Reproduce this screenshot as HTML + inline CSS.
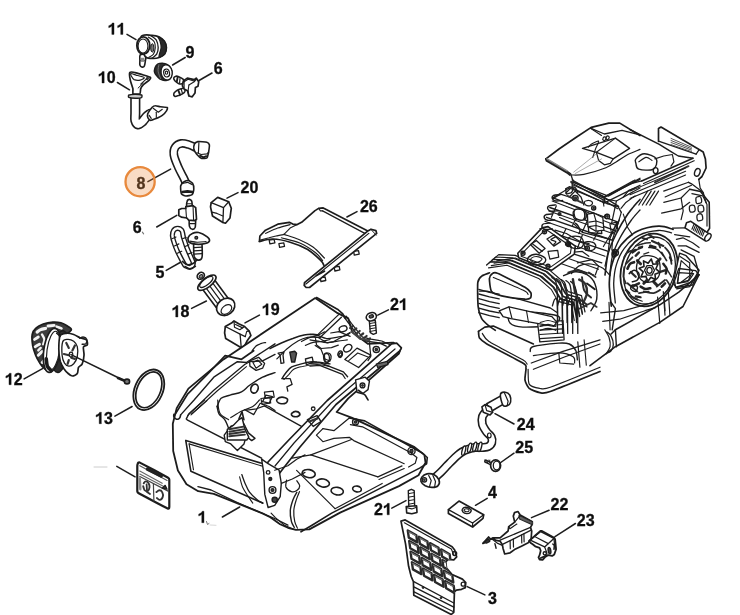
<!DOCTYPE html>
<html><head><meta charset="utf-8"><style>
html,body{margin:0;padding:0;background:#fff;width:740px;height:615px;overflow:hidden}
svg{display:block}
.l{font-family:"Liberation Sans",sans-serif;font-weight:bold;font-size:16px;fill:#111;stroke:#111;stroke-width:0.35px}
svg{will-change:transform}
</style></head><body>
<svg width="740" height="615" viewBox="0 0 740 615">
<defs><filter id="soft" x="0" y="0" width="100%" height="100%"><feGaussianBlur stdDeviation="0.3"/></filter></defs>
<rect width="740" height="615" fill="#fff"/>
<g filter="url(#soft)">
<text x="136.6" y="189.1" class="l">8</text>
<path d="M111.83 34.40 L114.02 34.40 L114.02 22.95 L112.24 22.95 L111.92 23.70 L111.14 24.48 L110.05 25.18 L108.74 25.73 L108.74 27.73 L109.97 27.26 L110.99 26.67 L111.83 25.95 Z" fill="#111" stroke="#111" stroke-width="0.35"/>
<path d="M120.72 34.40 L122.92 34.40 L122.92 22.95 L121.14 22.95 L120.82 23.70 L120.04 24.48 L118.94 25.18 L117.64 25.73 L117.64 27.73 L118.87 27.26 L119.88 26.67 L120.72 25.95 Z" fill="#111" stroke="#111" stroke-width="0.35"/>
<text x="185.6" y="58.2" class="l">9</text>
<text x="213.8" y="73.9" class="l">6</text>
<path d="M101.98 83.00 L104.17 83.00 L104.17 71.55 L102.39 71.55 L102.07 72.30 L101.29 73.08 L100.20 73.78 L98.89 74.33 L98.89 76.33 L100.12 75.86 L101.14 75.27 L101.98 74.55 Z" fill="#111" stroke="#111" stroke-width="0.35"/>
<text x="106.8" y="83" class="l">0</text>
<text x="240.5" y="192.6" class="l">2</text>
<text x="249.4" y="192.6" class="l">0</text>
<text x="359.9" y="211.6" class="l">2</text>
<text x="368.8" y="211.6" class="l">6</text>
<text x="132.8" y="233.3" class="l">6</text>
<text x="155.4" y="277.8" class="l">5</text>
<path d="M175.73 317.00 L177.92 317.00 L177.92 305.55 L176.14 305.55 L175.82 306.30 L175.04 307.08 L173.95 307.78 L172.64 308.33 L172.64 310.33 L173.87 309.86 L174.89 309.27 L175.73 308.55 Z" fill="#111" stroke="#111" stroke-width="0.35"/>
<text x="180.5" y="317" class="l">8</text>
<path d="M265.93 315.10 L268.12 315.10 L268.12 303.65 L266.34 303.65 L266.02 304.40 L265.24 305.18 L264.15 305.88 L262.84 306.43 L262.84 308.43 L264.07 307.96 L265.09 307.37 L265.93 306.65 Z" fill="#111" stroke="#111" stroke-width="0.35"/>
<text x="270.7" y="315.1" class="l">9</text>
<text x="390" y="309.9" class="l">2</text>
<path d="M402.98 309.90 L405.17 309.90 L405.17 298.45 L403.39 298.45 L403.07 299.20 L402.29 299.98 L401.19 300.68 L399.89 301.23 L399.89 303.23 L401.12 302.76 L402.13 302.17 L402.98 301.45 Z" fill="#111" stroke="#111" stroke-width="0.35"/>
<path d="M8.98 384.70 L11.17 384.70 L11.17 373.25 L9.39 373.25 L9.07 374.00 L8.29 374.78 L7.20 375.48 L5.89 376.03 L5.89 378.03 L7.12 377.56 L8.14 376.97 L8.98 376.25 Z" fill="#111" stroke="#111" stroke-width="0.35"/>
<text x="13.8" y="384.7" class="l">2</text>
<path d="M99.18 423.70 L101.37 423.70 L101.37 412.25 L99.59 412.25 L99.27 413.00 L98.49 413.78 L97.40 414.48 L96.09 415.03 L96.09 417.03 L97.32 416.56 L98.34 415.97 L99.18 415.25 Z" fill="#111" stroke="#111" stroke-width="0.35"/>
<text x="103.9" y="423.7" class="l">3</text>
<path d="M201.78 522.70 L203.97 522.70 L203.97 511.25 L202.19 511.25 L201.87 512.00 L201.09 512.78 L200.00 513.48 L198.69 514.03 L198.69 516.03 L199.92 515.56 L200.93 514.97 L201.78 514.25 Z" fill="#111" stroke="#111" stroke-width="0.35"/>
<text x="374.1" y="514.8" class="l">2</text>
<path d="M387.08 514.80 L389.27 514.80 L389.27 503.35 L387.49 503.35 L387.17 504.10 L386.39 504.88 L385.29 505.58 L383.99 506.13 L383.99 508.13 L385.22 507.66 L386.23 507.07 L387.08 506.35 Z" fill="#111" stroke="#111" stroke-width="0.35"/>
<text x="488.1" y="498.3" class="l">4</text>
<text x="488.1" y="604.3" class="l">3</text>
<text x="516.8" y="429.8" class="l">2</text>
<text x="525.7" y="429.8" class="l">4</text>
<text x="515.3" y="453.2" class="l">2</text>
<text x="524.2" y="453.2" class="l">5</text>
<text x="550.5" y="510.3" class="l">2</text>
<text x="559.4" y="510.3" class="l">2</text>
<text x="576.8" y="526.4" class="l">2</text>
<text x="585.7" y="526.4" class="l">3</text>
<line x1="127" y1="34.4" x2="136" y2="39.7" stroke="#1c1c1c" stroke-width="1.5" stroke-linecap="round"/>
<line x1="185.2" y1="57.5" x2="172.6" y2="65" stroke="#1c1c1c" stroke-width="1.5" stroke-linecap="round"/>
<line x1="212" y1="73" x2="199" y2="80.5" stroke="#1c1c1c" stroke-width="1.5" stroke-linecap="round"/>
<line x1="117.4" y1="82.5" x2="129.5" y2="89.8" stroke="#1c1c1c" stroke-width="1.5" stroke-linecap="round"/>
<line x1="147.9" y1="181.7" x2="170.6" y2="169.1" stroke="#1c1c1c" stroke-width="1.5" stroke-linecap="round"/>
<line x1="238" y1="192.6" x2="227" y2="198.2" stroke="#1c1c1c" stroke-width="1.5" stroke-linecap="round"/>
<line x1="357" y1="211.6" x2="346.9" y2="217" stroke="#1c1c1c" stroke-width="1.5" stroke-linecap="round"/>
<line x1="156.7" y1="227" x2="176.8" y2="215.4" stroke="#1c1c1c" stroke-width="1.5" stroke-linecap="round"/>
<line x1="166.2" y1="270.4" x2="181" y2="262" stroke="#1c1c1c" stroke-width="1.5" stroke-linecap="round"/>
<line x1="191.6" y1="308.4" x2="206.4" y2="301" stroke="#1c1c1c" stroke-width="1.5" stroke-linecap="round"/>
<line x1="259.4" y1="315.1" x2="245" y2="322.9" stroke="#1c1c1c" stroke-width="1.5" stroke-linecap="round"/>
<line x1="388.4" y1="309.9" x2="377.8" y2="315.1" stroke="#1c1c1c" stroke-width="1.5" stroke-linecap="round"/>
<line x1="24.1" y1="378.9" x2="42.5" y2="368.6" stroke="#1c1c1c" stroke-width="1.5" stroke-linecap="round"/>
<line x1="114.9" y1="416.1" x2="132.1" y2="406.5" stroke="#1c1c1c" stroke-width="1.5" stroke-linecap="round"/>
<line x1="116.8" y1="466.4" x2="135.1" y2="476.8" stroke="#1c1c1c" stroke-width="1.5" stroke-linecap="round"/>
<line x1="222.4" y1="517" x2="239.7" y2="507" stroke="#1c1c1c" stroke-width="1.5" stroke-linecap="round"/>
<line x1="391.8" y1="508.2" x2="406" y2="500.6" stroke="#1c1c1c" stroke-width="1.5" stroke-linecap="round"/>
<line x1="487.2" y1="498.3" x2="475.5" y2="505.3" stroke="#1c1c1c" stroke-width="1.5" stroke-linecap="round"/>
<line x1="467.2" y1="586.6" x2="484.9" y2="594.9" stroke="#1c1c1c" stroke-width="1.5" stroke-linecap="round"/>
<line x1="514" y1="424" x2="495" y2="413.7" stroke="#1c1c1c" stroke-width="1.5" stroke-linecap="round"/>
<line x1="514" y1="453.2" x2="499.3" y2="463.5" stroke="#1c1c1c" stroke-width="1.5" stroke-linecap="round"/>
<line x1="549.1" y1="510.3" x2="531.5" y2="517.6" stroke="#1c1c1c" stroke-width="1.5" stroke-linecap="round"/>
<line x1="575.4" y1="523.5" x2="555" y2="536.7" stroke="#1c1c1c" stroke-width="1.5" stroke-linecap="round"/>
<path d="M140.2 54.9 C139.3 55.9 139.9 59 139.9 60.7 C139.8 62.5 139.6 64.1 139.9 65.1 C140.2 66.2 141 66.8 141.7 67 C142.4 67.2 143.7 67.3 144.3 66.2 C144.9 65.2 145.1 62.6 145.4 60.7 C145.6 58.9 146.6 55.9 145.7 54.9 C144.9 53.9 141.2 53.9 140.2 54.9 Z" fill="#fff" stroke="#1c1c1c" stroke-width="1.6" stroke-linejoin="round" stroke-linecap="round" />
<path d="M140.6 60.7 L145 60.7" fill="none" stroke="#1c1c1c" stroke-width="1" stroke-linejoin="round" stroke-linecap="round" />
<rect x="140.8" y="57.8" width="3.6" height="4" fill="#888"/>
<path d="M141 37 C142.2 33.6 148.9 35.3 152 35.3 C155 35.3 157.2 35.9 159.3 37 C161.4 38 163.2 39.6 164.4 41.3 C165.6 43.1 166.3 45.5 166.4 47.6 C166.4 49.6 166 52.1 164.8 53.8 C163.6 55.4 161.4 56.7 159.3 57.5 C157.1 58.2 154.4 58.7 152 58.4 C149.5 58.1 146.5 59.2 144.6 55.6 C142.8 52 139.8 40.3 141 37 Z" fill="#fff" stroke="#1c1c1c" stroke-width="1.7" stroke-linejoin="round" stroke-linecap="round" />
<path d="M157.8 36.4 C158.6 36.5 163 39.5 164.4 41.3 C165.8 43.2 166.3 45.5 166.4 47.6 C166.4 49.6 166 52.1 164.8 53.8 C163.6 55.4 160.1 57.5 159.3 57.5 C158.4 57.4 159.3 55.1 159.6 53.4 C160 51.8 161.1 49.6 161.1 47.6 C161.2 45.5 160.6 42.8 160 41 C159.5 39.1 157.1 36.4 157.8 36.4 Z" fill="#2b2b2b" stroke="#1c1c1c" stroke-width="1.2" stroke-linejoin="round" stroke-linecap="round" />
<path d="M151.2 35.9 C152.1 36.6 155.2 38.3 156.4 40.2 C157.5 42.2 158.1 45.3 158.2 47.6 C158.2 49.9 157.8 52.4 156.7 54.2 C155.7 55.9 152.8 57.5 152 58.2" fill="none" stroke="#1c1c1c" stroke-width="1.3" stroke-linejoin="round" stroke-linecap="round" />
<path d="M148.3 37 C149.3 37.7 153 39.9 154.2 41.7 C155.3 43.5 155.4 45.5 155.3 47.6 C155.1 49.6 154.5 52.6 153.4 54.2 C152.4 55.7 149.8 56.6 149 57.1" fill="none" stroke="#1c1c1c" stroke-width="1.1" stroke-linejoin="round" stroke-linecap="round" />
<ellipse cx="152.3" cy="47.9" rx="1.6" ry="4.2" transform="rotate(0 152.3 47.9)" fill="#777" stroke="#1c1c1c" stroke-width="1"/>
<ellipse cx="143.3" cy="45.5" rx="6.4" ry="8.6" transform="rotate(0 143.3 45.5)" fill="#fff" stroke="#1c1c1c" stroke-width="1.9"/>
<ellipse cx="143" cy="46" rx="4.9" ry="7" transform="rotate(0 143 46)" fill="#fff" stroke="#1c1c1c" stroke-width="1.1"/>
<path d="M154.9 68 C155.4 66.5 156.5 64.9 157.7 64.1 C158.9 63.3 160.6 63.1 162.2 63.1 C163.7 63.2 165.6 63.5 167 64.3 C168.5 65.1 169.9 66.6 170.7 68 C171.5 69.3 172 70.8 171.9 72.4 C171.8 74.1 171.2 76.4 170.3 77.7 C169.3 79.1 167.7 80.2 166.2 80.5 C164.7 80.9 162.8 80.3 161.4 79.7 C159.9 79.1 158.8 78 157.7 76.9 C156.6 75.7 155.2 74.3 154.7 72.8 C154.2 71.4 154.4 69.4 154.9 68 Z" fill="#2d2d2d" stroke="#1c1c1c" stroke-width="1.4" stroke-linejoin="round" stroke-linecap="round" />
<ellipse cx="166.6" cy="72.4" rx="5.6" ry="7.7" transform="rotate(-10 166.6 72.4)" fill="#fff" stroke="#1c1c1c" stroke-width="1.4"/>
<ellipse cx="166.6" cy="73" rx="2.9" ry="4" transform="rotate(-10 166.6 73)" fill="#fff" stroke="#1c1c1c" stroke-width="1.2"/>
<ellipse cx="166.5" cy="72.7" rx="1.2" ry="1.6" transform="rotate(0 166.5 72.7)" fill="#fff" stroke="#1c1c1c" stroke-width="1.1"/>
<path d="M158.9 64.7 C158.8 65.8 157.8 68.9 158.1 71.2 C158.4 73.5 160.1 77.3 160.5 78.5" fill="none" stroke="#888" stroke-width="0.8" stroke-linejoin="round" stroke-linecap="round" />
<path d="M173.7 78.1 C173.8 77.3 175 76.5 176 76.2 C176.9 76 178 76.4 179.2 76.9 C180.4 77.4 182.4 78.5 183.3 79.3 C184.1 80.1 184.3 81 184.1 81.8 C183.9 82.5 183 83.5 182 83.8 C181.1 84.1 179.5 83.9 178.4 83.4 C177.2 82.9 175.9 81.8 175.1 81 C174.4 80.1 173.5 78.9 173.7 78.1 Z" fill="#fff" stroke="#1c1c1c" stroke-width="1.6" stroke-linejoin="round" stroke-linecap="round" />
<path d="M177.6 77.3 L176.8 81.8" fill="none" stroke="#1c1c1c" stroke-width="1.9" stroke-linejoin="round" stroke-linecap="round" />
<path d="M180 78.5 L179.6 83" fill="none" stroke="#1c1c1c" stroke-width="1.2" stroke-linejoin="round" stroke-linecap="round" />
<path d="M173.7 93.9 C173.8 93.1 174.9 91.9 176 91.1 C177 90.3 178.7 89.5 180 89.1 C181.4 88.6 183.3 87.8 184.1 88.3 C184.9 88.7 185.1 90.6 184.9 91.5 C184.6 92.4 183.5 93.3 182.4 93.9 C181.4 94.6 179.6 95.1 178.4 95.6 C177.2 96 175.9 96.6 175.1 96.4 C174.4 96.1 173.5 94.8 173.7 93.9 Z" fill="#fff" stroke="#1c1c1c" stroke-width="1.6" stroke-linejoin="round" stroke-linecap="round" />
<path d="M178.4 90.7 L180 94.7" fill="none" stroke="#1c1c1c" stroke-width="1.9" stroke-linejoin="round" stroke-linecap="round" />
<path d="M181.2 89.1 L182.4 93.1" fill="none" stroke="#1c1c1c" stroke-width="1.2" stroke-linejoin="round" stroke-linecap="round" />
<path d="M183.3 81 L187.3 78.1 L194.2 79.7 L196.2 78.1 L198.7 81.8 L198 86.2 L195.4 87.4 L195 93.1 L192.2 96.8 L188.9 96 L187.5 90.7 L184.1 89.1 L182.4 85.8 Z" fill="#fff" stroke="#1c1c1c" stroke-width="1.7" stroke-linejoin="round" stroke-linecap="round" />
<path d="M184.1 81.8 L188.1 79.3 L193.8 81 L195.4 79.3" fill="none" stroke="#1c1c1c" stroke-width="1.1" stroke-linejoin="round" stroke-linecap="round" />
<path d="M188.9 85 L194.2 81.8 L196.2 79.3" fill="none" stroke="#1c1c1c" stroke-width="1.1" stroke-linejoin="round" stroke-linecap="round" />
<path d="M188.9 85 L188.1 90.7 L188.9 96" fill="none" stroke="#1c1c1c" stroke-width="1.1" stroke-linejoin="round" stroke-linecap="round" />
<path d="M184.1 81.8 L184.1 88.3" fill="none" stroke="#1c1c1c" stroke-width="1.1" stroke-linejoin="round" stroke-linecap="round" />
<path d="M135.3 97.7 C135.3 100.3 135.3 109.6 135.3 113.3 C135.3 117.1 134.8 118.5 135.3 120.4 C135.8 122.2 136.9 124.2 138.1 124.4 C139.4 124.6 141.2 122.7 142.7 121.4 C144.1 120 145.4 117.6 146.7 116.4 C148 115.1 149.6 114.3 150.2 113.8" fill="none" stroke="#1c1c1c" stroke-width="10.2" stroke-linejoin="round" stroke-linecap="round" />
<path d="M135.3 97.7 C135.3 100.3 135.3 109.6 135.3 113.3 C135.3 117.1 134.8 118.5 135.3 120.4 C135.8 122.2 136.9 124.2 138.1 124.4 C139.4 124.6 141.2 122.7 142.7 121.4 C144.1 120 145.4 117.6 146.7 116.4 C148 115.1 149.6 114.3 150.2 113.8" fill="none" stroke="#fff" stroke-width="7" stroke-linejoin="round" stroke-linecap="round" />
<path d="M147.7 113.8 C148.1 112.8 151.5 108.1 152.2 107.3 C153 106.5 154.5 105.8 155.3 105.8 C156.1 105.7 159.1 106.6 160.3 106.8 C161.5 107 166.7 107.1 167.3 107.5 C168 107.9 167 110 166.5 110.8 C166 111.6 163.3 114.6 162.3 115.3 C161.3 116.1 157.4 117.9 156.3 118.4 C155.1 118.9 151.6 120.4 150.7 120.4 C149.9 120.3 148.3 118.5 148 117.9 C147.7 117.2 147.3 114.9 147.7 113.8 Z" fill="#fff" stroke="#1c1c1c" stroke-width="1.6" stroke-linejoin="round" stroke-linecap="round" />
<path d="M149.2 115.3 L151.2 118.4" fill="none" stroke="#1c1c1c" stroke-width="1.2" stroke-linejoin="round" stroke-linecap="round" />
<path d="M153.2 108.3 L158.3 112.3 L162.3 109.3" fill="none" stroke="#1c1c1c" stroke-width="1.1" stroke-linejoin="round" stroke-linecap="round" />
<path d="M156.3 112.3 L156.3 117.4" fill="none" stroke="#1c1c1c" stroke-width="1.1" stroke-linejoin="round" stroke-linecap="round" />
<path d="M129.8 72.5 C130.3 71.9 134.4 72.4 136.1 72.8 C137.8 73.2 149.1 76.7 150.2 77.3 C151.3 77.9 149.8 79.5 149.2 80.1 C148.6 80.7 144.1 83.9 143.4 84.6 C142.7 85.3 140.9 87.9 140.7 88.7 C140.4 89.4 140.6 93.2 139.9 93.7 C139.3 94.1 133.7 94.4 133.1 94 C132.5 93.6 133.1 89.8 132.9 88.7 C132.7 87.5 130.5 81.4 130.3 80.1 C130 78.7 129.3 73.1 129.8 72.5 Z" fill="#fff" stroke="#1c1c1c" stroke-width="1.7" stroke-linejoin="round" stroke-linecap="round" />
<path d="M130.9 73.5 C131.5 73.4 134.3 74.5 136.1 75.1 C137.9 75.6 143.6 76.9 144.2 77.6 C144.7 78.2 141.5 79.8 140.1 80.1 C138.8 80.4 135.3 80.1 134.1 79.6 C132.9 79 131.7 76.9 131.3 76.1 C130.9 75.3 130.2 73.7 130.9 73.5 Z" fill="none" stroke="#1c1c1c" stroke-width="1.2" stroke-linejoin="round" stroke-linecap="round" />
<path d="M140.7 84.1 L146.2 79.1 L148.7 78.1" fill="none" stroke="#1c1c1c" stroke-width="1.1" stroke-linejoin="round" stroke-linecap="round" />
<path d="M138.1 88.1 L143.2 83.1" fill="none" stroke="#1c1c1c" stroke-width="1" stroke-linejoin="round" stroke-linecap="round" />
<ellipse cx="147.2" cy="78.6" rx="0.9" ry="1.2" transform="rotate(0 147.2 78.6)" fill="#444" stroke="#1c1c1c" stroke-width="1"/>
<path d="M128.9 95 C129.5 94.7 133.8 94.4 135.1 94.4 C136.4 94.4 141 94.7 141.7 95 C142.3 95.3 142 97.4 141.4 97.7 C140.7 98 136.4 98.3 135.1 98.2 C133.9 98.2 129.5 97.7 128.9 97.4 C128.2 97.1 128.2 95.3 128.9 95 Z" fill="#ccc" stroke="#1c1c1c" stroke-width="1.4" stroke-linejoin="round" stroke-linecap="round" />
<path d="M186.2 183.5 C185.7 182.5 184.9 180.4 183.6 177.8 C182.3 175.1 180.1 171.3 178.4 167.5 C176.8 163.8 174.4 158.4 173.9 155 C173.4 151.6 174 149 175.3 147.1 C176.5 145.1 179 143.8 181.3 143.4 C183.5 143 186.3 143.9 188.7 144.6 C191.1 145.3 194.4 147.1 195.5 147.6" fill="none" stroke="#1c1c1c" stroke-width="8.8" stroke-linejoin="round" stroke-linecap="round" />
<path d="M186.2 183.5 C185.7 182.5 184.9 180.4 183.6 177.8 C182.3 175.1 180.1 171.3 178.4 167.5 C176.8 163.8 174.4 158.4 173.9 155 C173.4 151.6 174 149 175.3 147.1 C176.5 145.1 179 143.8 181.3 143.4 C183.5 143 186.3 143.9 188.7 144.6 C191.1 145.3 194.4 147.1 195.5 147.6" fill="none" stroke="#fff" stroke-width="5.6" stroke-linejoin="round" stroke-linecap="round" />
<path d="M194.4 144.2 C194.8 143.4 196.5 141.8 197.8 141.6 C199 141.4 205.7 141.9 206.9 142.3 C208 142.6 209.2 144 209.4 145 C209.6 146 208.8 150.9 208.6 152.2 C208.3 153.5 207.6 157.3 206.9 157.9 C206.1 158.5 202.2 158.6 201.2 158.2 C200.2 157.9 197.6 155.3 196.9 154.5 C196.1 153.6 194.2 150.6 193.9 149.6 C193.7 148.5 194 145 194.4 144.2 Z" fill="#fff" stroke="#1c1c1c" stroke-width="1.6" stroke-linejoin="round" stroke-linecap="round" />
<path d="M198.9 142.5 L198.4 152.8" fill="none" stroke="#1c1c1c" stroke-width="1.2" stroke-linejoin="round" stroke-linecap="round" />
<path d="M196.9 152.8 L201.2 154.5 L206.9 153.9 L208.6 152.2" fill="none" stroke="#1c1c1c" stroke-width="1.2" stroke-linejoin="round" stroke-linecap="round" />
<path d="M200.1 155.6 L203.5 157.3 L206.3 156.2" fill="none" stroke="#1c1c1c" stroke-width="1.9" stroke-linejoin="round" stroke-linecap="round" />
<path d="M180.7 185.7 C181 184.6 183.3 182.3 184.1 181.8 C184.9 181.3 187.8 180.5 188.7 180.6 C189.5 180.8 192.2 182.6 192.7 183.5 C193.2 184.3 193.9 188 193.8 189.2 C193.7 190.3 192.9 193.9 192.1 194.6 C191.3 195.3 186.9 196.1 185.8 196 C184.8 195.9 181.8 194.7 181.3 193.7 C180.8 192.7 180.4 186.9 180.7 185.7 Z" fill="#fff" stroke="#1c1c1c" stroke-width="1.6" stroke-linejoin="round" stroke-linecap="round" />
<path d="M181.9 183.5 L187.5 182.3 L192.3 184.6" fill="none" stroke="#1c1c1c" stroke-width="1.2" stroke-linejoin="round" stroke-linecap="round" />
<path d="M182.4 192 L187.5 191.4 L192.7 192" fill="none" stroke="#1c1c1c" stroke-width="2.6" stroke-linejoin="round" stroke-linecap="round" />
<path d="M186.6 207.2 C186.6 206.5 186.5 203 186.9 202 C187.2 200.9 188.5 199.4 189.2 199.4 C189.9 199.3 191.4 200.4 191.8 201.4 C192.2 202.5 192.2 206.4 192.3 207.2" fill="#fff" stroke="#1c1c1c" stroke-width="1.6" stroke-linejoin="round" stroke-linecap="round" />
<path d="M187.1 203.7 L191.7 203.7" fill="none" stroke="#1c1c1c" stroke-width="1.1" stroke-linejoin="round" stroke-linecap="round" />
<path d="M189.2 219.9 C189.2 220.8 189 225.2 189.5 226.4 C189.9 227.7 191.6 229.2 192.3 229.3 C193.1 229.4 194.7 228.5 195.2 227.2 C195.6 226 195.6 220.9 195.7 219.9" fill="#fff" stroke="#1c1c1c" stroke-width="1.6" stroke-linejoin="round" stroke-linecap="round" />
<path d="M189.7 223.6 L195.3 223.6" fill="none" stroke="#1c1c1c" stroke-width="1.1" stroke-linejoin="round" stroke-linecap="round" />
<path d="M185.8 206.7 L193 205.6 L195.7 207.6 L196.5 219.3 L194.4 220.7 L188.7 220.2 L186.9 218 L181.3 217.1 L178.8 215.5 L178.8 209.8 L181.7 208.5 L185.8 208.5 Z" fill="#fff" stroke="#1c1c1c" stroke-width="1.7" stroke-linejoin="round" stroke-linecap="round" />
<path d="M185.8 208.5 L186.5 218" fill="none" stroke="#1c1c1c" stroke-width="1.1" stroke-linejoin="round" stroke-linecap="round" />
<path d="M193 205.6 L193.6 220.2" fill="none" stroke="#1c1c1c" stroke-width="1.1" stroke-linejoin="round" stroke-linecap="round" />
<path d="M211.2 202.6 L217.7 197.4 L228.7 201.7 L231.3 208.2 L230 218 L225.5 223.2 L222.9 222.5 L212.5 216 L210.5 206.9 Z" fill="#fff" stroke="#1c1c1c" stroke-width="1.7" stroke-linejoin="round" stroke-linecap="round" />
<path d="M211.2 202.6 L223.5 207.6 L228.7 201.7" fill="none" stroke="#1c1c1c" stroke-width="1.3" stroke-linejoin="round" stroke-linecap="round" />
<path d="M223.5 207.6 L222.9 222.5" fill="none" stroke="#1c1c1c" stroke-width="1.3" stroke-linejoin="round" stroke-linecap="round" />
<path d="M211.8 212.1 L217 213.4 L222.9 216" fill="none" stroke="#1c1c1c" stroke-width="1.1" stroke-linejoin="round" stroke-linecap="round" />
<path d="M185 265.5 C184.4 264.5 182.9 262.1 181.7 259.8 C180.5 257.5 178.9 254.4 177.6 251.7 C176.4 249 175.3 246.2 174.4 243.5 C173.5 240.9 172.6 237.9 172.4 235.7 C172.3 233.6 172.7 231.8 173.6 230.5 C174.4 229.3 176.3 228.3 177.6 228.3 C179 228.3 180.9 229 181.9 230.5 C182.8 232 182.7 234.6 183.5 237.4 C184.3 240.1 185.6 243.9 186.7 247.1 C187.9 250.3 189.6 253.8 190.7 256.5 C191.7 259.3 193.4 261.6 193.3 263.4 C193.1 265.2 191.4 266.9 190 267.3 C188.6 267.6 185.8 265.8 185 265.5" fill="none" stroke="#1c1c1c" stroke-width="5.2" stroke-linejoin="round" stroke-linecap="round" />
<path d="M185 265.5 C184.4 264.5 182.9 262.1 181.7 259.8 C180.5 257.5 178.9 254.4 177.6 251.7 C176.4 249 175.3 246.2 174.4 243.5 C173.5 240.9 172.6 237.9 172.4 235.7 C172.3 233.6 172.7 231.8 173.6 230.5 C174.4 229.3 176.3 228.3 177.6 228.3 C179 228.3 180.9 229 181.9 230.5 C182.8 232 182.7 234.6 183.5 237.4 C184.3 240.1 185.6 243.9 186.7 247.1 C187.9 250.3 189.6 253.8 190.7 256.5 C191.7 259.3 193.4 261.6 193.3 263.4 C193.1 265.2 191.4 266.9 190 267.3 C188.6 267.6 185.8 265.8 185 265.5" fill="none" stroke="#fff" stroke-width="2.4" stroke-linejoin="round" stroke-linecap="round" />
<path d="M172 238.7 L176 237" fill="none" stroke="#1c1c1c" stroke-width="1.2" stroke-linejoin="round" stroke-linecap="round" />
<path d="M174.4 246 L178.9 243.9" fill="none" stroke="#1c1c1c" stroke-width="1.2" stroke-linejoin="round" stroke-linecap="round" />
<path d="M177.3 253.3 L181.7 251.3" fill="none" stroke="#1c1c1c" stroke-width="1.2" stroke-linejoin="round" stroke-linecap="round" />
<path d="M182.5 238.7 L186.1 237.4" fill="none" stroke="#1c1c1c" stroke-width="1.2" stroke-linejoin="round" stroke-linecap="round" />
<path d="M185.1 246.5 L189 244.8" fill="none" stroke="#1c1c1c" stroke-width="1.2" stroke-linejoin="round" stroke-linecap="round" />
<path d="M188 254.1 L192 252.5" fill="none" stroke="#1c1c1c" stroke-width="1.2" stroke-linejoin="round" stroke-linecap="round" />
<path d="M182.5 261.4 C183.3 262 185.5 264.4 187.4 264.7 C189.3 264.9 192.3 264 193.9 263 C195.5 262.1 196.6 259.7 197.2 259" fill="none" stroke="#1c1c1c" stroke-width="1.7" stroke-linejoin="round" stroke-linecap="round" />
<path d="M185 266.3 C185.8 266.7 188.1 268.7 189.8 268.7 C191.6 268.7 194.6 266.7 195.5 266.3" fill="none" stroke="#1c1c1c" stroke-width="1.4" stroke-linejoin="round" stroke-linecap="round" />
<path d="M193.6 243.5 C193.7 245.7 193.5 253.8 194.2 256.5 C195 259.3 196.7 260 198 260.1 C199.3 260.3 201.4 260.1 202 257.4 C202.7 254.6 202 245.8 202 243.5" fill="#fff" stroke="#1c1c1c" stroke-width="1.6" stroke-linejoin="round" stroke-linecap="round" />
<path d="M193.9 247.6 L202 247.1" fill="none" stroke="#1c1c1c" stroke-width="1.2" stroke-linejoin="round" stroke-linecap="round" />
<path d="M193.9 250.9 L202 250.4" fill="none" stroke="#1c1c1c" stroke-width="1.2" stroke-linejoin="round" stroke-linecap="round" />
<path d="M193.9 254.1 L202 253.6" fill="none" stroke="#1c1c1c" stroke-width="1.2" stroke-linejoin="round" stroke-linecap="round" />
<path d="M188.2 237.4 C188.6 236.2 190.9 234.1 192.3 233.5 C193.7 232.8 196.8 232 198.8 232.5 C200.7 232.9 205.5 235.6 206.9 236.7 C208.3 237.8 209.7 240 209.5 240.9 C209.3 241.8 207.1 243.1 205.3 243.5 C203.4 244 197.7 244.4 195.5 244.2 C193.4 244 190 243.1 189 242.2 C188 241.3 187.8 238.5 188.2 237.4 Z" fill="#fff" stroke="#1c1c1c" stroke-width="1.7" stroke-linejoin="round" stroke-linecap="round" />
<path d="M189.8 241.1 C191.1 241.3 194.4 242.2 197.2 242.2 C199.9 242.3 204.6 241.7 206.1 241.6" fill="none" stroke="#1c1c1c" stroke-width="1.1" stroke-linejoin="round" stroke-linecap="round" />
<circle cx="196.3" cy="237.8" r="1.4" fill="#666" stroke="#1c1c1c" stroke-width="1.3"/>
<ellipse cx="200.8" cy="275.8" rx="3.8" ry="3.2" transform="rotate(-38 200.8 275.8)" fill="#fff" stroke="#1c1c1c" stroke-width="1.6"/>
<ellipse cx="201.1" cy="276.3" rx="2" ry="1.6" transform="rotate(-38 201.1 276.3)" fill="#888" stroke="#1c1c1c" stroke-width="1"/>
<path d="M213.9 279 L229.8 300.4 L217.9 309.8 L202 288.4 Z" fill="#fff" stroke="#1c1c1c" stroke-width="1.6" stroke-linejoin="round" stroke-linecap="round" />
<path d="M204.7 286.2 L220.6 307.7" fill="none" stroke="#1c1c1c" stroke-width="1.2" stroke-linejoin="round" stroke-linecap="round" />
<path d="M208 283.7 L223.9 305.1" fill="none" stroke="#1c1c1c" stroke-width="1.2" stroke-linejoin="round" stroke-linecap="round" />
<path d="M211.3 281.1 L227.2 302.6" fill="none" stroke="#1c1c1c" stroke-width="1.2" stroke-linejoin="round" stroke-linecap="round" />
<ellipse cx="206.9" cy="282.7" rx="11" ry="4.6" transform="rotate(-38 206.9 282.7)" fill="#fff" stroke="#1c1c1c" stroke-width="1.7"/>
<ellipse cx="206.3" cy="281.9" rx="8" ry="3" transform="rotate(-38 206.3 281.9)" fill="none" stroke="#1c1c1c" stroke-width="1.1"/>
<ellipse cx="225.7" cy="306.8" rx="9.8" ry="8" transform="rotate(-38 225.7 306.8)" fill="#fff" stroke="#1c1c1c" stroke-width="1.7"/>
<ellipse cx="226.4" cy="309.5" rx="6" ry="4" transform="rotate(-38 226.4 309.5)" fill="#fff" stroke="#1c1c1c" stroke-width="1.2"/>
<path d="M225.3 326.5 L231.5 323.1 L234 321 L238.7 323.8 L244.6 326.5 L249.2 331.1 L250.9 335.5 L247 341.1 L244.2 346.6 L240.9 347.4 L225.7 338.6 L224.6 332.8 Z" fill="#fff" stroke="#1c1c1c" stroke-width="1.7" stroke-linejoin="round" stroke-linecap="round" />
<path d="M225.3 326.5 L240.1 334.2 L245.3 336.6" fill="none" stroke="#1c1c1c" stroke-width="1.3" stroke-linejoin="round" stroke-linecap="round" />
<path d="M240.1 334.2 L241.2 347.2" fill="none" stroke="#1c1c1c" stroke-width="1.3" stroke-linejoin="round" stroke-linecap="round" />
<path d="M234 321 L234.5 327.2 L239.8 329.7 L244.6 326.5" fill="none" stroke="#1c1c1c" stroke-width="1.2" stroke-linejoin="round" stroke-linecap="round" />
<path d="M235.6 324.5 L242.6 327.9" fill="none" stroke="#1c1c1c" stroke-width="1.2" stroke-linejoin="round" stroke-linecap="round" />
<path d="M245.3 336.6 L246.7 331.4 L249.2 331.1" fill="none" stroke="#1c1c1c" stroke-width="1.1" stroke-linejoin="round" stroke-linecap="round" />
<path d="M269.2 240.1 L274.1 239.4 L274.9 242.9 L269.9 243.9 Z" fill="#fff" stroke="#1c1c1c" stroke-width="1.3" stroke-linejoin="round" stroke-linecap="round" />
<path d="M278.9 243.6 L283.8 242.9 L284.5 246.4 L279.6 247.4 Z" fill="#fff" stroke="#1c1c1c" stroke-width="1.3" stroke-linejoin="round" stroke-linecap="round" />
<path d="M353.6 251.3 L358.5 250.6 L359.2 254.1 L354.3 255.2 Z" fill="#fff" stroke="#1c1c1c" stroke-width="1.3" stroke-linejoin="round" stroke-linecap="round" />
<path d="M334.2 267.1 L339.2 266.4 L339.9 269.9 L334.9 271 Z" fill="#fff" stroke="#1c1c1c" stroke-width="1.3" stroke-linejoin="round" stroke-linecap="round" />
<path d="M320.2 277.7 L325.1 277 L325.8 280.5 L320.9 281.5 Z" fill="#fff" stroke="#1c1c1c" stroke-width="1.3" stroke-linejoin="round" stroke-linecap="round" />
<path d="M259.4 241.5 C261.6 241.1 267.4 238.9 272.6 239 C277.7 239.1 284.3 240.4 290.1 242.2 C296 243.9 302.6 246.5 307.7 249.5 C312.8 252.6 318.2 258 320.9 260.6 C323.6 263.2 323.4 264.6 323.9 265.4" fill="none" stroke="#1c1c1c" stroke-width="1.7" stroke-linejoin="round" stroke-linecap="round" />
<path d="M259.4 241.5 L259.9 236 L265.5 230.2 L277.8 224.2 L289.3 222.3 L292.8 224.1 L297.2 224.6 L301.6 222.3 L314.7 210.9 L318.6 208.4 L323.2 207.9 L326.7 209.7 L368.3 231.3" fill="none" stroke="#1c1c1c" stroke-width="1.7" stroke-linejoin="round" stroke-linecap="round" />
<path d="M368.3 230.7 L371 229.2 L375.9 230.6 L376.7 233.4 L309.5 287.5 L305.9 287.3 L304.2 285.4 L304.5 282.6 L368.3 230.7 Z" fill="#fff" stroke="#1c1c1c" stroke-width="1.7" stroke-linejoin="round" stroke-linecap="round" />
<path d="M368.8 233.4 L305.9 284" fill="none" stroke="#1c1c1c" stroke-width="1.2" stroke-linejoin="round" stroke-linecap="round" />
<path d="M371 229.5 L376.2 235.1" fill="none" stroke="#1c1c1c" stroke-width="1" stroke-linejoin="round" stroke-linecap="round" />
<path d="M322.6 210.9 L364.8 233.4" fill="none" stroke="#1c1c1c" stroke-width="1.2" stroke-linejoin="round" stroke-linecap="round" />
<path d="M318.6 208.4 L320.4 210.9 L322.6 210.9" fill="none" stroke="#1c1c1c" stroke-width="1.1" stroke-linejoin="round" stroke-linecap="round" />
<path d="M284 234.4 C286.5 235.3 294.1 237.4 298.9 239.5 C303.8 241.6 308.7 244 313 247.1 C317.2 250.2 322.5 256.2 324.4 258" fill="none" stroke="#1c1c1c" stroke-width="1.2" stroke-linejoin="round" stroke-linecap="round" />
<path d="M281.4 237.8 C284.4 238.7 294.1 240.6 299.8 243 C305.5 245.5 311.8 249.8 315.6 252.7 C319.4 255.6 321.5 259.3 322.6 260.6" fill="none" stroke="#1c1c1c" stroke-width="1.2" stroke-linejoin="round" stroke-linecap="round" />
<path d="M260.3 240.1 C261.7 239.7 266.4 238.4 269.1 237.8 C271.7 237.1 273.6 236.6 276.1 236 C278.6 235.5 282.7 234.7 284 234.4" fill="none" stroke="#1c1c1c" stroke-width="1.1" stroke-linejoin="round" stroke-linecap="round" />
<path d="M265.5 233.4 C267.6 232.5 273.7 229.6 277.8 228.1 C281.9 226.6 288.1 225.2 290.1 224.6" fill="none" stroke="#1c1c1c" stroke-width="1.1" stroke-linejoin="round" stroke-linecap="round" />
<path d="M284 234.4 L290.1 228.1 L297.2 224.6" fill="none" stroke="#1c1c1c" stroke-width="1.1" stroke-linejoin="round" stroke-linecap="round" />
<path d="M316.5 275.5 L324.4 271.2" fill="none" stroke="#1c1c1c" stroke-width="1.9" stroke-linejoin="round" stroke-linecap="round" />
<path d="M315.2 298.1 L336.6 312.6 L348.3 318.4 L352.2 332.1 L367.8 343.8 L393.2 342.6 L401 347.7 L399 353.5 L348.3 398.4 L336.6 412 L352.2 417.9 L414.6 447.1 L424.4 454.9 L425.5 462.7 L418.5 475.2 L399 486.1 L340.1 512.6 L309.3 529.4 L296 529.8 L287.9 527.8 L280.1 524.3 L270.3 517.3 L262.5 513.4 L213.8 493.9 L198.2 491.2 L186.5 484.2 L177.9 470.5 L173.2 451 L172.8 423.7 L176.7 408.1 L188.4 388.6 L223.5 359.4 Z" fill="#fff" stroke="#1c1c1c" stroke-width="1.8" stroke-linejoin="round" stroke-linecap="round" />
<path d="M174.8 414.9 L187.8 393.8 L207.3 374.3 L225.2 355.7 L241.5 359.3 L253.7 350.8" fill="none" stroke="#1c1c1c" stroke-width="1.7" stroke-linejoin="round" stroke-linecap="round" />
<path d="M180.6 414.9 L194.1 400 L213.8 377.2 L237.4 361.7 L246.4 362.5 L275 343.8" fill="none" stroke="#1c1c1c" stroke-width="1.4" stroke-linejoin="round" stroke-linecap="round" />
<path d="M173.9 414.3 C173.9 414.7 173.5 415.8 173.8 416.5 C174.1 417.2 174.8 418.2 175.5 418.6 C176.2 419.1 177.3 419.4 178 419.2 C178.7 419 179.5 418.3 179.9 417.6 C180.3 416.9 180.5 415.4 180.6 415" fill="none" stroke="#1c1c1c" stroke-width="1.6" stroke-linejoin="round" stroke-linecap="round" />
<path d="M187.8 415.4 L213.8 390.2 L244.7 364.5 L249.6 361.7 L262.6 360.9 L275 354.4" fill="none" stroke="#1c1c1c" stroke-width="1.3" stroke-linejoin="round" stroke-linecap="round" />
<path d="M191 414.9 L217.1 391 L246.4 366.6" fill="none" stroke="#1c1c1c" stroke-width="1.1" stroke-linejoin="round" stroke-linecap="round" />
<path d="M252.1 350.8 C252.7 350 254.4 347.2 256.1 345.9 C257.9 344.6 261.1 343.6 262.6 343 C264.2 342.5 265.1 342.7 265.6 342.7" fill="none" stroke="#1c1c1c" stroke-width="1.3" stroke-linejoin="round" stroke-linecap="round" />
<path d="M249.6 360.9 L258.6 357.3 L264.6 363.4 L262.6 368.2 L256.1 370.4 L249.9 366.1 Z" fill="none" stroke="#1c1c1c" stroke-width="1.3" stroke-linejoin="round" stroke-linecap="round" />
<path d="M252.9 362.5 L257.8 360.1 L261.8 364.2 L256.1 368.2 Z" fill="none" stroke="#1c1c1c" stroke-width="1.2" stroke-linejoin="round" stroke-linecap="round" />
<ellipse cx="254.5" cy="388.6" rx="3.6" ry="4.6" transform="rotate(20 254.5 388.6)" fill="none" stroke="#1c1c1c" stroke-width="1.7"/>
<path d="M217.1 406.5 C217.8 405.1 219 400.2 221.1 398.3 C223.3 396.4 226.7 396.2 230.1 395.1 C233.5 394 238.2 393.5 241.5 391.8 C244.7 390.2 246.1 387.8 249.6 385.3 C253.1 382.9 258.4 379.3 262.6 377.2 C266.9 375.1 272.9 373.4 275 372.6" fill="none" stroke="#1c1c1c" stroke-width="1.4" stroke-linejoin="round" stroke-linecap="round" />
<path d="M217.1 406.5 C217.4 407.7 217.7 411.5 219 413.8 C220.4 416.1 223.5 417.6 225.2 420.3 C226.9 423 228.6 428.5 229.3 430.1" fill="none" stroke="#1c1c1c" stroke-width="1.4" stroke-linejoin="round" stroke-linecap="round" />
<path d="M244.7 409.7 L253.7 414.6 L260.2 403.2 L269.1 406.5 L275 410.6" fill="none" stroke="#1c1c1c" stroke-width="1.2" stroke-linejoin="round" stroke-linecap="round" />
<path d="M262.6 401.6 L265.9 395.1 L272.4 396.7 L269.1 403.2 Z" fill="none" stroke="#1c1c1c" stroke-width="1.3" stroke-linejoin="round" stroke-linecap="round" />
<path d="M391.6 343.9 L396.7 343.2 L401.4 347.9 L399.7 351 L336 404.5 L300 447 L282 470 L276 478 L266 470 L268 462 L289.3 439.5 L327.3 400.5 L391.6 343.9 Z" fill="#fff" stroke="#1c1c1c" stroke-width="1.7" stroke-linejoin="round" stroke-linecap="round" />
<path d="M395 349 L331 403 L294 443 L275 466" fill="none" stroke="#1c1c1c" stroke-width="1.2" stroke-linejoin="round" stroke-linecap="round" />
<path d="M369.3 320.5 L370.3 332.7 L373.3 334.3 L376.4 333.1 L375.3 320.5 Z" fill="#fff" stroke="#1c1c1c" stroke-width="1.4" stroke-linejoin="round" stroke-linecap="round" />
<path d="M369.9 323.5 L375.8 322.5" fill="none" stroke="#1c1c1c" stroke-width="1" stroke-linejoin="round" stroke-linecap="round" />
<path d="M369.9 326.2 L375.8 325.2" fill="none" stroke="#1c1c1c" stroke-width="1" stroke-linejoin="round" stroke-linecap="round" />
<path d="M369.9 328.8 L375.8 327.8" fill="none" stroke="#1c1c1c" stroke-width="1" stroke-linejoin="round" stroke-linecap="round" />
<path d="M369.9 331.5 L375.8 330.4" fill="none" stroke="#1c1c1c" stroke-width="1" stroke-linejoin="round" stroke-linecap="round" />
<ellipse cx="371.3" cy="316.8" rx="5.2" ry="4" transform="rotate(-20 371.3 316.8)" fill="#fff" stroke="#1c1c1c" stroke-width="1.6"/>
<ellipse cx="371.3" cy="316.4" rx="2.2" ry="1.5" transform="rotate(-20 371.3 316.4)" fill="#555" stroke="#1c1c1c" stroke-width="1.2"/>
<path d="M204.5 400 L188.9 413.7 L186.3 418.9 L187.6 420.2 L261.6 458.2" fill="none" stroke="#1c1c1c" stroke-width="1.4" stroke-linejoin="round" stroke-linecap="round" />
<path d="M207 400.5 L191.5 414" fill="none" stroke="#1c1c1c" stroke-width="1.1" stroke-linejoin="round" stroke-linecap="round" />
<path d="M185.8 440.6 L262.7 463.6" fill="none" stroke="#1c1c1c" stroke-width="1.6" stroke-linejoin="round" stroke-linecap="round" />
<path d="M189.1 443.9 L262.7 466.3" fill="none" stroke="#1c1c1c" stroke-width="1.1" stroke-linejoin="round" stroke-linecap="round" />
<path d="M185.8 440.6 L190.9 471.3 L262.7 503.1" fill="none" stroke="#1c1c1c" stroke-width="1.6" stroke-linejoin="round" stroke-linecap="round" />
<path d="M189.1 443.9 L193.5 469.8" fill="none" stroke="#1c1c1c" stroke-width="1.1" stroke-linejoin="round" stroke-linecap="round" />
<path d="M197.9 486.7 L211.1 490 L237.4 502.7 L274.7 518.5 L287.9 525.1" fill="none" stroke="#1c1c1c" stroke-width="1.3" stroke-linejoin="round" stroke-linecap="round" />
<path d="M241.8 474.6 C242.4 476.1 243.8 480.5 245.1 483.4 C246.4 486.3 247.5 489.4 249.5 492.2 C251.5 494.9 255 498 257.2 499.8 C259.4 501.7 261.7 502.6 262.7 503.1" fill="none" stroke="#1c1c1c" stroke-width="1.3" stroke-linejoin="round" stroke-linecap="round" />
<path d="M239.6 476.8 C240.2 478.6 241.4 484.5 242.9 487.8 C244.4 491.1 246.7 494 248.4 496.6 C250 499.1 252 502 252.8 503.1" fill="none" stroke="#1c1c1c" stroke-width="1.1" stroke-linejoin="round" stroke-linecap="round" />
<path d="M261.6 459.2 L268.1 463.6 L279.1 470.2 L281.3 483.4 L280.2 496.6 L274.7 505.3 L268.1 507.5 L264.8 494.4 L263.7 472.4 Z" fill="#fff" stroke="#1c1c1c" stroke-width="1.4" stroke-linejoin="round" stroke-linecap="round" />
<circle cx="272.5" cy="490" r="3.4" fill="#fff" stroke="#1c1c1c" stroke-width="1.4"/>
<circle cx="272.5" cy="490" r="1.5" fill="#333" stroke="#1c1c1c" stroke-width="1.2"/>
<circle cx="274.7" cy="499.8" r="2.6" fill="#444" stroke="#1c1c1c" stroke-width="1.4"/>
<circle cx="268.1" cy="472.4" r="1.8" fill="none" stroke="#1c1c1c" stroke-width="1.3"/>
<circle cx="270.3" cy="479" r="1.5" fill="#333" stroke="#1c1c1c" stroke-width="1.3"/>
<path d="M274.7 470.2 L287.9 465.8 L296.7 459.2 L305 454.9" fill="none" stroke="#1c1c1c" stroke-width="1.2" stroke-linejoin="round" stroke-linecap="round" />
<path d="M281.3 483.4 L292.3 479 L305 472.4" fill="none" stroke="#1c1c1c" stroke-width="1.2" stroke-linejoin="round" stroke-linecap="round" />
<path d="M224.2 435.1 L230.8 426.3 L240.7 424.1 L241.8 419.7 L248.4 432.9 L255 438.4 L251.7 440.6 L246.2 436.2 L244 443.9 L237.4 450.5 L230.8 443.9 L225.3 441.7 Z" fill="#fff" stroke="#1c1c1c" stroke-width="1.4" stroke-linejoin="round" stroke-linecap="round" />
<path d="M229.7 428.5 L240.7 426.3" fill="none" stroke="#1c1c1c" stroke-width="1.2" stroke-linejoin="round" stroke-linecap="round" />
<path d="M229.7 431.8 L240.7 429.6" fill="none" stroke="#1c1c1c" stroke-width="1.2" stroke-linejoin="round" stroke-linecap="round" />
<path d="M229.7 435.1 L240.7 432.9" fill="none" stroke="#1c1c1c" stroke-width="1.2" stroke-linejoin="round" stroke-linecap="round" />
<path d="M217.7 400 C218 402.2 218 409.9 219.9 413.2 C221.7 416.5 227.2 418.7 228.6 419.7" fill="none" stroke="#1c1c1c" stroke-width="1.2" stroke-linejoin="round" stroke-linecap="round" />
<path d="M230.8 417.6 C232.7 416.5 238.1 412.8 241.8 411 C245.5 409.1 249.9 408.4 252.8 406.6 C255.7 404.8 258.3 401.1 259.4 400" fill="none" stroke="#1c1c1c" stroke-width="1.2" stroke-linejoin="round" stroke-linecap="round" />
<path d="M349.3 418 L364.7 420.9 L421.8 452.7 L427.3 457.5 L426.6 463.7 L419.6 468.1 L331.7 513.1 L312 525.2 L301 531.8" fill="none" stroke="#1c1c1c" stroke-width="1.6" stroke-linejoin="round" stroke-linecap="round" />
<path d="M350.4 424.6 L362.5 426.8 L410.8 452.7 L416.9 457.5 L415.2 463.3 L408.6 467" fill="none" stroke="#1c1c1c" stroke-width="1.2" stroke-linejoin="round" stroke-linecap="round" />
<path d="M322.9 428.6 L333.9 430.7 L349.3 418" fill="none" stroke="#1c1c1c" stroke-width="1.2" stroke-linejoin="round" stroke-linecap="round" />
<path d="M322.9 428.6 L316.4 435.1 L322.9 441.7 L333.9 438.4 L349.3 437.3 L353.7 440.6 L404.2 463.7" fill="none" stroke="#1c1c1c" stroke-width="1.2" stroke-linejoin="round" stroke-linecap="round" />
<circle cx="355.5" cy="422" r="3" fill="none" stroke="#1c1c1c" stroke-width="1.3"/>
<circle cx="355.5" cy="422" r="1.3" fill="#444" stroke="#1c1c1c" stroke-width="1.1"/>
<circle cx="411.5" cy="451" r="3.6" fill="none" stroke="#1c1c1c" stroke-width="1.4"/>
<circle cx="411.5" cy="451" r="1.6" fill="#444" stroke="#1c1c1c" stroke-width="1.2"/>
<path d="M292.2 458.2 L310.9 454.9 L377.9 476.9" fill="none" stroke="#1c1c1c" stroke-width="1.3" stroke-linejoin="round" stroke-linecap="round" />
<path d="M377.9 476.9 L402 465.9" fill="none" stroke="#1c1c1c" stroke-width="1.2" stroke-linejoin="round" stroke-linecap="round" />
<path d="M379 479.5 L404.2 468.5" fill="none" stroke="#1c1c1c" stroke-width="1.2" stroke-linejoin="round" stroke-linecap="round" />
<path d="M310.9 454.9 L351.5 439.5" fill="none" stroke="#1c1c1c" stroke-width="1.2" stroke-linejoin="round" stroke-linecap="round" />
<path d="M296.6 470.3 L335 508.7" fill="none" stroke="#1c1c1c" stroke-width="1.2" stroke-linejoin="round" stroke-linecap="round" />
<path d="M335 508.7 L382.2 483.5" fill="none" stroke="#1c1c1c" stroke-width="1.2" stroke-linejoin="round" stroke-linecap="round" />
<ellipse cx="308.7" cy="473.6" rx="6.6" ry="4" transform="rotate(10 308.7 473.6)" fill="none" stroke="#1c1c1c" stroke-width="1.6"/>
<ellipse cx="322.9" cy="483" rx="6.6" ry="4" transform="rotate(10 322.9 483)" fill="none" stroke="#1c1c1c" stroke-width="1.6"/>
<ellipse cx="337.2" cy="491.1" rx="6.2" ry="3.8" transform="rotate(10 337.2 491.1)" fill="none" stroke="#1c1c1c" stroke-width="1.6"/>
<ellipse cx="357" cy="489" rx="4.4" ry="2.9" transform="rotate(10 357 489)" fill="none" stroke="#1c1c1c" stroke-width="1.6"/>
<path d="M286.6 480.1 C286.5 481.3 285.2 485 285.9 486.9 C286.7 488.8 289.5 491 291.4 491.6 C293.2 492.2 295.4 491.5 296.8 490.5 C298.2 489.6 299.7 487.6 299.7 485.9 C299.7 484.3 297.3 481.7 296.8 480.8" fill="none" stroke="#1c1c1c" stroke-width="1.3" stroke-linejoin="round" stroke-linecap="round" />
<path d="M296.8 492.3 C296.1 493.5 294.1 496.7 293 499.7 C291.9 502.8 290.5 506.9 290.3 510.5 C290 514.1 290.7 518.5 291.4 521.4 C292 524.2 293.8 526.4 294.3 527.4" fill="none" stroke="#1c1c1c" stroke-width="1.4" stroke-linejoin="round" stroke-linecap="round" />
<path d="M299.5 491.6 C298.9 493.1 297 497.3 296.1 500.4 C295.1 503.6 294 507 293.8 510.5 C293.6 514 294.1 518.4 294.7 521.4 C295.3 524.3 297 527 297.4 528.1" fill="none" stroke="#1c1c1c" stroke-width="1.2" stroke-linejoin="round" stroke-linecap="round" />
<path d="M271.1 513.2 L275.4 517.6 L284.6 525.4 L294.1 529.5" fill="none" stroke="#1c1c1c" stroke-width="1.2" stroke-linejoin="round" stroke-linecap="round" />
<path d="M408.3 490.7 L408.8 507.7 L414.7 507.7 L414.2 490.7 L411.4 489.3 Z" fill="#fff" stroke="#1c1c1c" stroke-width="1.4" stroke-linejoin="round" stroke-linecap="round" />
<path d="M408.8 493.6 L414.2 492.6" fill="none" stroke="#1c1c1c" stroke-width="1" stroke-linejoin="round" stroke-linecap="round" />
<path d="M408.8 497.1 L414.2 496.2" fill="none" stroke="#1c1c1c" stroke-width="1" stroke-linejoin="round" stroke-linecap="round" />
<path d="M408.8 500.6 L414.2 499.7" fill="none" stroke="#1c1c1c" stroke-width="1" stroke-linejoin="round" stroke-linecap="round" />
<path d="M408.8 504.2 L414.2 503.2" fill="none" stroke="#1c1c1c" stroke-width="1" stroke-linejoin="round" stroke-linecap="round" />
<path d="M406.2 506.5 L416.6 505.8 L417 512.4 L411.8 513.8 L406.7 512.9 Z" fill="#fff" stroke="#1c1c1c" stroke-width="1.6" stroke-linejoin="round" stroke-linecap="round" />
<path d="M407.1 507.7 L411.8 508.9 L416.6 507.2" fill="none" stroke="#1c1c1c" stroke-width="1.1" stroke-linejoin="round" stroke-linecap="round" />
<path d="M32.2 334.5 C32.7 331.6 34 329.9 35.9 328.2 C37.7 326.4 40.3 325 43.2 324 C46 323 50 322.3 52.9 322.1 C55.9 321.9 58.5 322.2 60.9 322.8 C63.2 323.4 65.2 324.5 67 325.7 C68.7 327 72.3 328 71.2 330.2 C70.1 332.5 63.5 335.8 60.2 339.4 C57 342.9 53.5 347.5 51.7 351.6 C49.9 355.7 49.6 360.5 49.3 363.8 C49 367.1 50.7 370.5 49.9 371.3 C49.1 372.2 46 370 44.4 368.7 C42.8 367.4 41.6 365.8 40.1 363.5 C38.7 361.3 36.8 358.3 35.6 355.2 C34.4 352.2 33.3 348.9 32.7 345.5 C32.1 342 31.7 337.4 32.2 334.5 Z" fill="#3c3c3c" stroke="#1c1c1c" stroke-width="1.7" stroke-linejoin="round" stroke-linecap="round" />
<path d="M37.1 332.1 C37.7 331.7 39.3 330.2 40.7 329.6 C42.2 329 44.8 328.6 45.6 328.4" fill="none" stroke="#f4f4f4" stroke-width="3.1" stroke-linejoin="round" stroke-linecap="round" />
<path d="M34.6 339.4 C35.2 339 37.7 337.4 38.3 337" fill="none" stroke="#f4f4f4" stroke-width="2.9" stroke-linejoin="round" stroke-linecap="round" />
<path d="M35.2 346.7 C36 346.3 38.8 344.7 39.5 344.3" fill="none" stroke="#f4f4f4" stroke-width="2.9" stroke-linejoin="round" stroke-linecap="round" />
<path d="M38.3 355.2 C38.9 354.6 41.3 352.2 42 351.6" fill="none" stroke="#f4f4f4" stroke-width="2.9" stroke-linejoin="round" stroke-linecap="round" />
<path d="M42 362.6 C42.5 362 44.5 359.5 45 358.9" fill="none" stroke="#f4f4f4" stroke-width="2.6" stroke-linejoin="round" stroke-linecap="round" />
<path d="M48 326 C49.1 325.9 53.1 325.5 54.1 325.4" fill="none" stroke="#f4f4f4" stroke-width="2.9" stroke-linejoin="round" stroke-linecap="round" />
<path d="M56.6 326.6 C57.4 326.9 60.7 328.1 61.5 328.4" fill="none" stroke="#f4f4f4" stroke-width="2.6" stroke-linejoin="round" stroke-linecap="round" />
<path d="M42 334.5 C42.4 335.3 44.2 337.8 44.4 339.4 C44.6 341 43.4 343.5 43.2 344.3" fill="none" stroke="#f4f4f4" stroke-width="2.4" stroke-linejoin="round" stroke-linecap="round" />
<path d="M38.3 350.4 C38.7 350 40.3 348.3 40.7 347.9" fill="none" stroke="#f4f4f4" stroke-width="2.4" stroke-linejoin="round" stroke-linecap="round" />
<ellipse cx="60.2" cy="351.6" rx="7.6" ry="21" transform="rotate(8 60.2 351.6)" fill="#2e2e2e" stroke="#1c1c1c" stroke-width="1.4"/>
<ellipse cx="52" cy="350.4" rx="8.2" ry="22.2" transform="rotate(8 52 350.4)" fill="#fff" stroke="#1c1c1c" stroke-width="1.7"/>
<ellipse cx="53.2" cy="350.6" rx="6.2" ry="19.5" transform="rotate(8 53.2 350.6)" fill="#fff" stroke="#1c1c1c" stroke-width="1.2"/>
<path d="M46.2 358.9 C46.4 360.1 46.6 364.3 47.4 366.2 C48.3 368.2 50.5 369.8 51.1 370.5" fill="none" stroke="#1c1c1c" stroke-width="3.6" stroke-linejoin="round" stroke-linecap="round" />
<path d="M60.2 335.7 C61.3 333.6 64.6 333.5 66.3 333.3 C68.1 333.1 71.9 333.9 73.7 334.5 C75.4 335.1 78 336.8 79.8 337.6 C81.5 338.3 85.5 339 86.5 340 C87.5 341 87.7 344 87.3 344.9 C86.9 345.8 83.9 345.6 83.4 347 C83 348.3 84.2 353 84 355.2 C83.9 357.5 82.9 362.2 82.2 363.8 C81.5 365.4 79.2 366.1 78.5 367.4 C77.9 368.7 78.1 372.4 77.3 373.5 C76.5 374.7 73.7 376 72.4 376 C71.2 376 69.3 374.5 68.2 373.5 C67 372.6 65 370.3 63.9 368.7 C62.8 367 60.9 363.9 60.2 361.3 C59.6 358.7 58.8 352.6 58.8 349.1 C58.8 345.7 59.2 337.8 60.2 335.7 Z" fill="#fff" stroke="#1c1c1c" stroke-width="1.7" stroke-linejoin="round" stroke-linecap="round" />
<path d="M62.7 341.8 C63.6 339.2 65.7 339.5 67.6 339.4 C69.4 339.3 72 340 73.7 341.2 C75.3 342.4 76.7 344.2 77.3 346.7 C77.9 349.2 77.9 353.6 77.3 356.5 C76.7 359.3 75.1 362.2 73.7 363.8 C72.2 365.4 70.3 366.3 68.8 366.2 C67.3 366.1 65.6 365 64.5 363.2 C63.4 361.3 62.4 358.8 62.1 355.2 C61.8 351.7 61.8 344.5 62.7 341.8 Z" fill="none" stroke="#1c1c1c" stroke-width="1.3" stroke-linejoin="round" stroke-linecap="round" />
<path d="M66.3 343 L68.8 347.9" fill="none" stroke="#333" stroke-width="2.2" stroke-linejoin="round" stroke-linecap="round" />
<path d="M74.9 345.5 L72.4 350.4" fill="none" stroke="#333" stroke-width="2.2" stroke-linejoin="round" stroke-linecap="round" />
<path d="M63.9 354 L68.8 355.2" fill="none" stroke="#333" stroke-width="2.2" stroke-linejoin="round" stroke-linecap="round" />
<path d="M74.9 358.9 L71.2 357.7" fill="none" stroke="#333" stroke-width="2.2" stroke-linejoin="round" stroke-linecap="round" />
<path d="M67.6 363.8 L68.8 360.1" fill="none" stroke="#333" stroke-width="2.2" stroke-linejoin="round" stroke-linecap="round" />
<ellipse cx="71" cy="354.6" rx="1.8" ry="2.4" transform="rotate(0 71 354.6)" fill="#fff" stroke="#1c1c1c" stroke-width="1.2"/>
<path d="M79.8 338.2 C80.4 338 82.2 336.7 83.4 337 C84.6 337.2 86.4 338.3 86.8 339.4 C87.2 340.5 86.6 342.8 85.9 343.7 C85.1 344.5 82.8 344.2 82.2 344.3" fill="none" stroke="#1c1c1c" stroke-width="1.4" stroke-linejoin="round" stroke-linecap="round" />
<path d="M56.6 333.3 L60.2 336.3" fill="none" stroke="#1c1c1c" stroke-width="1.4" stroke-linejoin="round" stroke-linecap="round" />
<line x1="71" y1="354.6" x2="124" y2="380.5" stroke="#1c1c1c" stroke-width="1.6" stroke-linecap="round"/>
<line x1="118" y1="378" x2="124" y2="380.5" stroke="#1c1c1c" stroke-width="2.6" stroke-linecap="round"/>
<ellipse cx="127" cy="381.5" rx="2.6" ry="2.4" transform="rotate(0 127 381.5)" fill="#777" stroke="#1c1c1c" stroke-width="1.6"/>
<ellipse cx="148.8" cy="389.8" rx="14" ry="21.3" transform="rotate(24 148.8 389.8)" fill="none" stroke="#1c1c1c" stroke-width="1.8"/>
<ellipse cx="148.8" cy="389.8" rx="11.6" ry="18.9" transform="rotate(24 148.8 389.8)" fill="none" stroke="#1c1c1c" stroke-width="1.7"/>
<path d="M137.8 463.6 C137.9 463.4 138.3 461.9 139.8 462.6 C141.3 463.3 166.6 476.8 168.1 477.7 C169.6 478.5 169.2 478.9 169.3 480.4 C169.3 481.8 169.3 505.4 169.3 506.8 C169.2 508.2 169.1 509.2 167.6 508.5 C166.1 507.8 140.3 494.2 138.8 493.3 C137.3 492.4 137.4 492.5 137.3 491.1 C137.3 489.8 137.3 467.1 137.3 465.7 C137.3 464.4 137.7 463.8 137.8 463.6 Z" fill="#fff" stroke="#1c1c1c" stroke-width="2.2" stroke-linejoin="round" stroke-linecap="round" />
<path d="M139.8 465.7 L167.1 480.4" fill="none" stroke="#555" stroke-width="1.1" stroke-linejoin="round" stroke-linecap="round" />
<path d="M147.6 469.2 L161.2 476" fill="none" stroke="#222" stroke-width="3.6" stroke-linejoin="round" stroke-linecap="round" />
<path d="M139.8 471.1 L162.2 483.3" fill="none" stroke="#666" stroke-width="1.1" stroke-linejoin="round" stroke-linecap="round" />
<path d="M139.8 474 L165.2 487.2" fill="none" stroke="#666" stroke-width="1.1" stroke-linejoin="round" stroke-linecap="round" />
<path d="M139.8 476.5 L168.1 491.1" fill="none" stroke="#444" stroke-width="1.2" stroke-linejoin="round" stroke-linecap="round" />
<path d="M153.4 484.3 L153.9 500.9" fill="none" stroke="#444" stroke-width="1.2" stroke-linejoin="round" stroke-linecap="round" />
<path d="M139.8 478.4 L140.3 489.2" fill="none" stroke="#888" stroke-width="2.4" stroke-linejoin="round" stroke-linecap="round" />
<path d="M143.7 483.3 C144 483 144.8 481.4 145.6 481.4 C146.4 481.4 147.9 482.3 148.6 483.3 C149.2 484.3 149.7 485.9 149.5 487.2 C149.4 488.5 148.4 490.6 147.6 491.1 C146.8 491.6 145.4 491 144.6 490.2 C143.9 489.3 143.4 486.9 143.2 486.2" fill="none" stroke="#333" stroke-width="1.9" stroke-linejoin="round" stroke-linecap="round" />
<path d="M156.4 492.1 C156.9 491.8 158.3 490.2 159.3 490.2 C160.3 490.2 161.7 491 162.2 492.1 C162.8 493.2 163.1 495.7 162.7 497 C162.3 498.3 160.8 499.8 159.8 499.9 C158.8 500.1 157.3 498.3 156.9 498" fill="none" stroke="#333" stroke-width="1.9" stroke-linejoin="round" stroke-linecap="round" />
<path d="M162.2 488.2 L165.2 485.3 L167.1 489.2 Z" fill="#333" stroke="#1c1c1c" stroke-width="1.2" stroke-linejoin="round" stroke-linecap="round" />
<path d="M146.6 484.3 L147.1 492.1 L150 494.1" fill="none" stroke="#333" stroke-width="1.8" stroke-linejoin="round" stroke-linecap="round" />
<line x1="94" y1="467" x2="107" y2="467" stroke="#ccc" stroke-width="1.0" stroke-linecap="round"/>
<path d="M401 521.1 L405.2 519.9 L452.1 546.7 L454.7 550.1 L456.7 556.9 L453.8 559.8 L447.9 559.5 L445.8 562 L446.5 568 L452.1 574.5 L462.4 579.1 L465.8 582.5 L465.3 587.6 L461.5 589.3 L456.4 590.2 L454.4 591.9 L453.8 612.3 L451.3 614.4 L413.8 595.3 L413.4 581.6 L411.2 576.5 L408.6 566.3 L405.6 544.1 L401.8 525.4 Z" fill="#fff" stroke="#1c1c1c" stroke-width="1.7" stroke-linejoin="round" stroke-linecap="round" />
<clipPath id="c3"><path d="M401 521.1 L405.2 519.9 L452.1 546.7 L454.7 550.1 L456.7 556.9 L453.8 559.8 L447.9 559.5 L445.8 562 L446.5 568 L452.1 574.5 L462.4 579.1 L465.8 582.5 L465.3 587.6 L461.5 589.3 L456.4 590.2 L454.4 591.9 L453.8 612.3 L451.3 614.4 L413.8 595.3 L413.4 581.6 L411.2 576.5 L408.6 566.3 L405.6 544.1 L401.8 525.4 Z"/></clipPath>
<g clip-path="url(#c3)">
<path d="M404.4 522.8 L451.3 548.9 L453.8 555.2" fill="none" stroke="#1c1c1c" stroke-width="1.2" stroke-linejoin="round" stroke-linecap="round" />
<path d="M407.8 530.5 L416.3 535.2 L417.3 542.4 L408.8 537.6 Z" fill="#fff" stroke="#2a2a2a" stroke-width="2.4" stroke-linejoin="round" stroke-linecap="round" />
<path d="M408.8 531.8 L415.6 535.6" fill="none" stroke="#777" stroke-width="1.2" stroke-linejoin="round" stroke-linecap="round" />
<path d="M418.9 536.8 L427.4 541.6 L428.4 548.7 L419.9 543.9 Z" fill="#fff" stroke="#2a2a2a" stroke-width="2.4" stroke-linejoin="round" stroke-linecap="round" />
<path d="M419.9 538.1 L426.7 541.9" fill="none" stroke="#777" stroke-width="1.2" stroke-linejoin="round" stroke-linecap="round" />
<path d="M430 543.1 L438.5 547.9 L439.5 555 L431 550.3 Z" fill="#fff" stroke="#2a2a2a" stroke-width="2.4" stroke-linejoin="round" stroke-linecap="round" />
<path d="M431 544.5 L437.8 548.2" fill="none" stroke="#777" stroke-width="1.2" stroke-linejoin="round" stroke-linecap="round" />
<path d="M441.1 549.4 L449.6 554.2 L450.6 561.3 L442.1 556.6 Z" fill="#fff" stroke="#2a2a2a" stroke-width="2.4" stroke-linejoin="round" stroke-linecap="round" />
<path d="M442.1 550.8 L448.9 554.5" fill="none" stroke="#777" stroke-width="1.2" stroke-linejoin="round" stroke-linecap="round" />
<path d="M409.2 541 L417.7 545.8 L418.7 553 L410.2 548.2 Z" fill="#fff" stroke="#2a2a2a" stroke-width="2.4" stroke-linejoin="round" stroke-linecap="round" />
<path d="M410.2 542.4 L417 546.2" fill="none" stroke="#777" stroke-width="1.2" stroke-linejoin="round" stroke-linecap="round" />
<path d="M420.2 547.4 L428.8 552.1 L429.8 559.3 L421.3 554.5 Z" fill="#fff" stroke="#2a2a2a" stroke-width="2.4" stroke-linejoin="round" stroke-linecap="round" />
<path d="M421.3 548.7 L428.1 552.5" fill="none" stroke="#777" stroke-width="1.2" stroke-linejoin="round" stroke-linecap="round" />
<path d="M431.3 553.7 L439.9 558.4 L440.9 565.6 L432.4 560.8 Z" fill="#fff" stroke="#2a2a2a" stroke-width="2.4" stroke-linejoin="round" stroke-linecap="round" />
<path d="M432.4 555 L439.2 558.8" fill="none" stroke="#777" stroke-width="1.2" stroke-linejoin="round" stroke-linecap="round" />
<path d="M442.4 560 L450.9 564.8 L452 571.9 L443.4 567.1 Z" fill="#fff" stroke="#2a2a2a" stroke-width="2.4" stroke-linejoin="round" stroke-linecap="round" />
<path d="M443.4 561.3 L450.3 565.1" fill="none" stroke="#777" stroke-width="1.2" stroke-linejoin="round" stroke-linecap="round" />
<path d="M410.5 551.6 L419.1 556.4 L420.1 563.6 L411.5 558.8 Z" fill="#fff" stroke="#2a2a2a" stroke-width="2.4" stroke-linejoin="round" stroke-linecap="round" />
<path d="M411.5 553 L418.4 556.7" fill="none" stroke="#777" stroke-width="1.2" stroke-linejoin="round" stroke-linecap="round" />
<path d="M421.6 557.9 L430.1 562.7 L431.2 569.9 L422.6 565.1 Z" fill="#fff" stroke="#2a2a2a" stroke-width="2.4" stroke-linejoin="round" stroke-linecap="round" />
<path d="M422.6 559.3 L429.5 563" fill="none" stroke="#777" stroke-width="1.2" stroke-linejoin="round" stroke-linecap="round" />
<path d="M432.7 564.2 L441.2 569 L442.2 576.2 L433.7 571.4 Z" fill="#fff" stroke="#2a2a2a" stroke-width="2.4" stroke-linejoin="round" stroke-linecap="round" />
<path d="M433.7 565.6 L440.5 569.4" fill="none" stroke="#777" stroke-width="1.2" stroke-linejoin="round" stroke-linecap="round" />
<path d="M443.8 570.6 L452.3 575.3 L453.3 582.5 L444.8 577.7 Z" fill="#fff" stroke="#2a2a2a" stroke-width="2.4" stroke-linejoin="round" stroke-linecap="round" />
<path d="M444.8 571.9 L451.6 575.7" fill="none" stroke="#777" stroke-width="1.2" stroke-linejoin="round" stroke-linecap="round" />
<path d="M411.9 562.2 L420.4 567 L421.4 574.1 L412.9 569.4 Z" fill="#fff" stroke="#2a2a2a" stroke-width="2.4" stroke-linejoin="round" stroke-linecap="round" />
<path d="M412.9 563.6 L419.7 567.3" fill="none" stroke="#777" stroke-width="1.2" stroke-linejoin="round" stroke-linecap="round" />
<path d="M423 568.5 L431.5 573.3 L432.5 580.4 L424 575.7 Z" fill="#fff" stroke="#2a2a2a" stroke-width="2.4" stroke-linejoin="round" stroke-linecap="round" />
<path d="M424 569.9 L430.8 573.6" fill="none" stroke="#777" stroke-width="1.2" stroke-linejoin="round" stroke-linecap="round" />
<path d="M434.1 574.8 L442.6 579.6 L443.6 586.8 L435.1 582 Z" fill="#fff" stroke="#2a2a2a" stroke-width="2.4" stroke-linejoin="round" stroke-linecap="round" />
<path d="M435.1 576.2 L441.9 579.9" fill="none" stroke="#777" stroke-width="1.2" stroke-linejoin="round" stroke-linecap="round" />
<path d="M445.1 581.1 L453.7 585.9 L454.7 593.1 L446.2 588.3 Z" fill="#fff" stroke="#2a2a2a" stroke-width="2.4" stroke-linejoin="round" stroke-linecap="round" />
<path d="M446.2 582.5 L453 586.2" fill="none" stroke="#777" stroke-width="1.2" stroke-linejoin="round" stroke-linecap="round" />
</g>
<path d="M413.8 581.6 L453.8 603" fill="none" stroke="#1c1c1c" stroke-width="1.3" stroke-linejoin="round" stroke-linecap="round" />
<path d="M413.8 586.8 L453.8 607.2" fill="none" stroke="#1c1c1c" stroke-width="1.3" stroke-linejoin="round" stroke-linecap="round" />
<path d="M414.1 591.9 L453 611.5" fill="none" stroke="#1c1c1c" stroke-width="1.2" stroke-linejoin="round" stroke-linecap="round" />
<circle cx="423.1" cy="587.6" r="0.9" fill="#333" stroke="#1c1c1c" stroke-width="1"/>
<circle cx="441.1" cy="597.8" r="0.9" fill="#333" stroke="#1c1c1c" stroke-width="1"/>
<circle cx="463.2" cy="584.2" r="2" fill="none" stroke="#1c1c1c" stroke-width="1.3"/>
<circle cx="454.7" cy="553.5" r="2" fill="none" stroke="#1c1c1c" stroke-width="1.3"/>
<path d="M448.4 509.6 L459 501.1 L483.7 514.8 L483 518.3 L472.6 527 L448.4 513.6 Z" fill="#fff" stroke="#1c1c1c" stroke-width="1.7" stroke-linejoin="round" stroke-linecap="round" />
<path d="M448.4 509.6 L472.6 523 L483.7 514.8" fill="none" stroke="#1c1c1c" stroke-width="1.3" stroke-linejoin="round" stroke-linecap="round" />
<path d="M472.6 523 L472.6 527" fill="none" stroke="#1c1c1c" stroke-width="1.2" stroke-linejoin="round" stroke-linecap="round" />
<path d="M462.5 508.9 C463 508.1 464.7 507.1 466 507.2 C467.4 507.3 470 508.7 470.7 509.6 C471.5 510.4 471 511.7 470.3 512.4 C469.6 513.1 467.8 513.7 466.5 513.6 C465.2 513.5 463.4 512.5 462.7 511.7 C462.1 510.9 461.9 509.6 462.5 508.9 Z" fill="#fff" stroke="#1c1c1c" stroke-width="1.4" stroke-linejoin="round" stroke-linecap="round" />
<path d="M464.1 509.6 C464.6 509.2 466.4 508.7 467.2 508.9 C468 509 469.1 510.1 469.1 510.5 C469.1 511 468 511.6 467.2 511.7 C466.5 511.8 465.1 511.4 464.6 511 C464.1 510.6 463.7 509.9 464.1 509.6 Z" fill="#fff" stroke="#1c1c1c" stroke-width="1.1" stroke-linejoin="round" stroke-linecap="round" />
<path d="M482.9 543.4 L488.6 537 L490.6 539.1 L493.8 539.1 L496.1 540.4 L500.1 541.1 L502.4 544.8 L503 548.2 L504.7 554 L510.1 552.8 L514.5 549.6 L521.4 546.2 L528.2 542.7 L531.1 539.3 L531.7 531 L530.5 527.3 L532.3 524.1 L532.3 521.8 L520.2 514.9 L517.9 511.5 L514.5 512.6 L513.3 516.1 L514.7 522.1 L508.7 526.6 L508.1 531 L500.1 537.9 L492.6 537.9 L489.2 540.2 Z" fill="#fff" stroke="#1c1c1c" stroke-width="1.7" stroke-linejoin="round" stroke-linecap="round" />
<path d="M500.1 540.2 L530.5 527.3" fill="none" stroke="#1c1c1c" stroke-width="1.3" stroke-linejoin="round" stroke-linecap="round" />
<path d="M503 544.2 L531.1 530.1" fill="none" stroke="#1c1c1c" stroke-width="1.3" stroke-linejoin="round" stroke-linecap="round" />
<path d="M510.1 540.7 L510.3 548.7" fill="none" stroke="#1c1c1c" stroke-width="1.2" stroke-linejoin="round" stroke-linecap="round" />
<path d="M513.3 539.1 L513.5 547.1" fill="none" stroke="#1c1c1c" stroke-width="1.2" stroke-linejoin="round" stroke-linecap="round" />
<path d="M521.6 534.9 L521.8 543" fill="none" stroke="#1c1c1c" stroke-width="1.2" stroke-linejoin="round" stroke-linecap="round" />
<path d="M523.9 533.8 L524.1 541.8" fill="none" stroke="#1c1c1c" stroke-width="1.2" stroke-linejoin="round" stroke-linecap="round" />
<path d="M519.1 515.5 L532.3 521.8 L532.3 524.7 L519.6 519 Z" fill="#fff" stroke="#1c1c1c" stroke-width="1.3" stroke-linejoin="round" stroke-linecap="round" />
<path d="M519.6 516.3 L532.3 522.4" fill="none" stroke="#444" stroke-width="0.7" stroke-linejoin="round" stroke-linecap="round" />
<path d="M519.6 516.9 L532.3 522.9" fill="none" stroke="#444" stroke-width="0.7" stroke-linejoin="round" stroke-linecap="round" />
<path d="M519.6 517.5 L532.3 523.3" fill="none" stroke="#444" stroke-width="0.7" stroke-linejoin="round" stroke-linecap="round" />
<path d="M519.6 518 L532.3 523.8" fill="none" stroke="#444" stroke-width="0.7" stroke-linejoin="round" stroke-linecap="round" />
<path d="M519.6 518.6 L532.3 524.2" fill="none" stroke="#444" stroke-width="0.7" stroke-linejoin="round" stroke-linecap="round" />
<path d="M514.7 522.1 L519.6 516.1" fill="none" stroke="#1c1c1c" stroke-width="1.2" stroke-linejoin="round" stroke-linecap="round" />
<path d="M508.7 526.6 L509.9 528.7 L516.8 524.1" fill="none" stroke="#1c1c1c" stroke-width="1.2" stroke-linejoin="round" stroke-linecap="round" />
<path d="M483.4 542.7 L488.6 538.8 L489.8 541.4 L486.9 543.1 Z" fill="#333" stroke="#1c1c1c" stroke-width="1.2" stroke-linejoin="round" stroke-linecap="round" />
<path d="M492.6 539.6 L497.2 543.1 L502.4 545.4" fill="none" stroke="#1c1c1c" stroke-width="1.2" stroke-linejoin="round" stroke-linecap="round" />
<path d="M494.9 543.6 L496.1 548.2" fill="none" stroke="#1c1c1c" stroke-width="1.4" stroke-linejoin="round" stroke-linecap="round" />
<path d="M529 540.9 L540.4 531 L542 531 L554.3 537.9 L555.1 539.2 L556.1 549.3 L554.3 554.4 L552.1 555.9 L548.4 555.1 L544.8 557.3 L542.6 559.9 L539.6 559.5 L538.5 557.3 L539.6 555.1 L540.7 550.7 L539.6 547.8 L535.2 546.3 L533 544.5 L530.5 542.7 Z" fill="#fff" stroke="#1c1c1c" stroke-width="1.8" stroke-linejoin="round" stroke-linecap="round" />
<path d="M530.3 540.1 L540.7 531.6 L553.9 538.4 L544.6 546.9 L530.3 540.1" fill="none" stroke="#1c1c1c" stroke-width="1.3" stroke-linejoin="round" stroke-linecap="round" />
<path d="M535.6 537 L548.3 543.6" fill="none" stroke="#1c1c1c" stroke-width="1.2" stroke-linejoin="round" stroke-linecap="round" />
<path d="M544.6 546.9 L547 553.3" fill="none" stroke="#1c1c1c" stroke-width="1.2" stroke-linejoin="round" stroke-linecap="round" />
<path d="M553.9 538.4 L555 548.9" fill="none" stroke="#1c1c1c" stroke-width="1.2" stroke-linejoin="round" stroke-linecap="round" />
<ellipse cx="549.5" cy="550.7" rx="1.3" ry="3.2" transform="rotate(-10 549.5 550.7)" fill="#444" stroke="#1c1c1c" stroke-width="1.4"/>
<ellipse cx="544.8" cy="553.3" rx="1.6" ry="1.6" transform="rotate(0 544.8 553.3)" fill="#fff" stroke="#1c1c1c" stroke-width="1.4"/>
<path d="M540.7 558 L544 556.6 L547 555.1" fill="none" stroke="#1c1c1c" stroke-width="1.8" stroke-linejoin="round" stroke-linecap="round" />
<path d="M552.8 544.1 L554.3 545.6 L553.9 549.3" fill="none" stroke="#1c1c1c" stroke-width="1.4" stroke-linejoin="round" stroke-linecap="round" />
<path d="M486.7 410.6 C486 411.6 483.2 414.3 482.4 416.6 C481.7 418.9 481.7 421.7 482.4 424.3 C483.2 426.8 485.2 429.8 486.7 432 C488.2 434.1 490.5 435.3 491.3 437.1 C492.2 438.9 492.3 441.1 491.8 442.7 C491.3 444.3 490 445.7 488.4 446.5 C486.9 447.3 484.7 447.3 482.4 447.5 C480.2 447.7 477.2 447.2 474.8 447.5 C472.3 447.8 470.1 448.5 467.9 449.2 C465.8 449.9 463.9 450.7 462 451.9 C460 453.2 458.4 454.5 456 456.7 C453.6 458.9 450 462.6 447.4 465.2 C444.9 467.9 442.9 470.2 440.6 472.4 C438.3 474.6 434.9 477.5 433.8 478.6" fill="none" stroke="#1c1c1c" stroke-width="9" stroke-linejoin="round" stroke-linecap="round" />
<path d="M486.7 410.6 C486 411.6 483.2 414.3 482.4 416.6 C481.7 418.9 481.7 421.7 482.4 424.3 C483.2 426.8 485.2 429.8 486.7 432 C488.2 434.1 490.5 435.3 491.3 437.1 C492.2 438.9 492.3 441.1 491.8 442.7 C491.3 444.3 490 445.7 488.4 446.5 C486.9 447.3 484.7 447.3 482.4 447.5 C480.2 447.7 477.2 447.2 474.8 447.5 C472.3 447.8 470.1 448.5 467.9 449.2 C465.8 449.9 463.9 450.7 462 451.9 C460 453.2 458.4 454.5 456 456.7 C453.6 458.9 450 462.6 447.4 465.2 C444.9 467.9 442.9 470.2 440.6 472.4 C438.3 474.6 434.9 477.5 433.8 478.6" fill="none" stroke="#fff" stroke-width="5.8" stroke-linejoin="round" stroke-linecap="round" />
<ellipse cx="463.7" cy="450.7" rx="1.6" ry="4.8" transform="rotate(15 463.7 450.7)" fill="#fff" stroke="#1c1c1c" stroke-width="1.4"/>
<ellipse cx="469.6" cy="447.8" rx="1.6" ry="4.8" transform="rotate(15 469.6 447.8)" fill="#fff" stroke="#1c1c1c" stroke-width="1.4"/>
<ellipse cx="474.8" cy="446.8" rx="1.6" ry="4.8" transform="rotate(15 474.8 446.8)" fill="#fff" stroke="#1c1c1c" stroke-width="1.4"/>
<ellipse cx="479.9" cy="446.8" rx="1.6" ry="4.8" transform="rotate(15 479.9 446.8)" fill="#fff" stroke="#1c1c1c" stroke-width="1.4"/>
<ellipse cx="489.3" cy="435.4" rx="1.8" ry="2.4" transform="rotate(0 489.3 435.4)" fill="#fff" stroke="#1c1c1c" stroke-width="1.2"/>
<path d="M486.7 403.8 L501.2 395.6 L505.5 402.9 L491 411.5 Z" fill="#fff" stroke="#1c1c1c" stroke-width="1.6" stroke-linejoin="round" stroke-linecap="round" />
<path d="M500.4 394.4 C500.8 392.2 503.9 392 505.5 392.2 C507.1 392.3 508.9 393.6 509.8 395.2 C510.6 396.9 511 400.3 510.6 402.1 C510.2 403.8 508.5 405.3 507.2 405.8 C505.9 406.3 504.1 407.1 502.9 405.1 C501.8 403.2 499.9 396.6 500.4 394.4 Z" fill="#fff" stroke="#1c1c1c" stroke-width="1.6" stroke-linejoin="round" stroke-linecap="round" />
<path d="M504.6 393.2 L508.1 401.2 L507.2 405.5" fill="none" stroke="#1c1c1c" stroke-width="1.2" stroke-linejoin="round" stroke-linecap="round" />
<path d="M481.9 406.9 L485 404.6 L491 407.2 L492.7 412.3 L490.1 414.9 L483.3 412.3 Z" fill="#fff" stroke="#1c1c1c" stroke-width="1.6" stroke-linejoin="round" stroke-linecap="round" />
<path d="M485 404.6 L486.7 410.6 L492.7 412.3" fill="none" stroke="#1c1c1c" stroke-width="1.2" stroke-linejoin="round" stroke-linecap="round" />
<path d="M421.8 477.2 C422.8 475.9 425 474.2 427 473.8 C428.9 473.4 431.8 473.6 433.8 474.6 C435.8 475.6 438.2 477.9 438.9 479.8 C439.6 481.6 439.2 484.5 438 485.7 C436.9 487 434.2 487.4 432.1 487.4 C429.9 487.4 427.1 486.7 425.2 485.7 C423.4 484.7 421.5 482.9 421 481.5 C420.4 480 420.8 478.5 421.8 477.2 Z" fill="#fff" stroke="#1c1c1c" stroke-width="1.7" stroke-linejoin="round" stroke-linecap="round" />
<ellipse cx="424.4" cy="479.8" rx="2.2" ry="2.2" transform="rotate(0 424.4 479.8)" fill="#fff" stroke="#1c1c1c" stroke-width="1.4"/>
<ellipse cx="424.4" cy="479.8" rx="0.9" ry="0.9" transform="rotate(0 424.4 479.8)" fill="#444" stroke="#1c1c1c" stroke-width="1"/>
<path d="M428.7 475.5 L431.2 480.6 L429.5 486.6" fill="none" stroke="#1c1c1c" stroke-width="1.2" stroke-linejoin="round" stroke-linecap="round" />
<path d="M432.9 475.5 L435.5 481.5 L434.6 487.1" fill="none" stroke="#1c1c1c" stroke-width="1.2" stroke-linejoin="round" stroke-linecap="round" />
<path d="M485 459.8 L491.5 462.7 L491 464.9 L484.7 461.8 Z" fill="#fff" stroke="#1c1c1c" stroke-width="1.3" stroke-linejoin="round" stroke-linecap="round" />
<path d="M486.4 460.1 L485.9 462.7" fill="none" stroke="#1c1c1c" stroke-width="1" stroke-linejoin="round" stroke-linecap="round" />
<path d="M488.1 460.1 L487.6 462.7" fill="none" stroke="#1c1c1c" stroke-width="1" stroke-linejoin="round" stroke-linecap="round" />
<path d="M489.8 460.1 L489.3 462.7" fill="none" stroke="#1c1c1c" stroke-width="1" stroke-linejoin="round" stroke-linecap="round" />
<ellipse cx="495.6" cy="465.6" rx="5" ry="5.8" transform="rotate(0 495.6 465.6)" fill="#fff" stroke="#1c1c1c" stroke-width="1.7"/>
<ellipse cx="496.6" cy="465.6" rx="3.3" ry="4.4" transform="rotate(0 496.6 465.6)" fill="#fff" stroke="#1c1c1c" stroke-width="1.3"/>
<path d="M545.9 158.9 L567.8 171.8 L570.7 173.9 L572.5 179.4 L574.4 182.3 L604.4 197 L640 179.4" fill="none" stroke="#1c1c1c" stroke-width="1.4" stroke-linejoin="round" stroke-linecap="round" />
<path d="M545.9 158.9 L559 149 L576.6 137 L591.2 127.4 L608.8 123.1 L619.8 123.1 L640 135.5" fill="none" stroke="#1c1c1c" stroke-width="1.7" stroke-linejoin="round" stroke-linecap="round" />
<path d="M545.9 158.9 L546.4 160.7 L567.8 173.3 L570 175" fill="none" stroke="#1c1c1c" stroke-width="1.7" stroke-linejoin="round" stroke-linecap="round" />
<path d="M547 158.9 L567.1 170.9" fill="none" stroke="#888" stroke-width="1.6" stroke-linejoin="round" stroke-linecap="round" />
<path d="M582.5 148.4 L615.4 138.1 L629.6 148.4 L613.2 158.9 L596.4 152.3 L582.5 148.4" fill="none" stroke="#1c1c1c" stroke-width="1.4" stroke-linejoin="round" stroke-linecap="round" />
<path d="M596.4 152.3 L615.4 138.1" fill="none" stroke="#1c1c1c" stroke-width="1.1" stroke-linejoin="round" stroke-linecap="round" />
<path d="M596.4 152.3 L598.6 160.4 L604.4 164.8 L610.3 163.3 L613.2 158.9" fill="none" stroke="#1c1c1c" stroke-width="1.2" stroke-linejoin="round" stroke-linecap="round" />
<path d="M571.5 175 C573.6 174.9 578.2 175.5 583.9 174.3 C589.7 173.1 600.5 169.8 605.9 167.7 C611.3 165.6 612.5 164 616.1 161.9 C619.8 159.7 623.9 156.6 627.8 154.5 C631.8 152.5 638 150.3 640 149.4" fill="none" stroke="#1c1c1c" stroke-width="1.2" stroke-linejoin="round" stroke-linecap="round" />
<path d="M590.5 128.2 L604.4 134 L622 130.4 L640 134.8" fill="none" stroke="#1c1c1c" stroke-width="1.3" stroke-linejoin="round" stroke-linecap="round" />
<path d="M590.5 128.2 L601.5 135.5" fill="none" stroke="#1c1c1c" stroke-width="1.1" stroke-linejoin="round" stroke-linecap="round" />
<ellipse cx="604.4" cy="138.7" rx="1.5" ry="1.9" transform="rotate(30 604.4 138.7)" fill="none" stroke="#1c1c1c" stroke-width="1.2"/>
<ellipse cx="607.6" cy="137.8" rx="1.5" ry="1.9" transform="rotate(30 607.6 137.8)" fill="none" stroke="#1c1c1c" stroke-width="1.2"/>
<path d="M588.3 147.2 C588.8 146.7 590 145.1 591.2 144.3 C592.5 143.4 594.4 142.6 595.6 142.1 C596.9 141.6 598.6 140.3 598.6 141.4 C598.6 142.5 596.4 146.7 595.6 148.7 C594.9 150.6 594.7 151.6 594.2 153.1 C593.7 154.5 593 156.7 592.7 157.5" fill="none" stroke="#1c1c1c" stroke-width="1.1" stroke-linejoin="round" stroke-linecap="round" />
<path d="M573.7 172.1 L595.6 154.5" fill="none" stroke="#888" stroke-width="0.7" stroke-linejoin="round" stroke-linecap="round" />
<path d="M575.1 173.6 L601.5 158.9" fill="none" stroke="#888" stroke-width="0.7" stroke-linejoin="round" stroke-linecap="round" />
<path d="M572.2 181.6 L572.2 188.2 L604.4 202.8 L640 185.3" fill="none" stroke="#1c1c1c" stroke-width="1.3" stroke-linejoin="round" stroke-linecap="round" />
<path d="M604.4 197 L604.4 202.8" fill="none" stroke="#1c1c1c" stroke-width="1.2" stroke-linejoin="round" stroke-linecap="round" />
<path d="M553.2 198.5 L560.5 194.1 L569.3 197 L575.1 191.1 L581 197 L583.9 205" fill="none" stroke="#1c1c1c" stroke-width="1.3" stroke-linejoin="round" stroke-linecap="round" />
<ellipse cx="575.1" cy="198.5" rx="2" ry="1.6" transform="rotate(0 575.1 198.5)" fill="none" stroke="#1c1c1c" stroke-width="1.4"/>
<ellipse cx="575.1" cy="198.5" rx="0.8" ry="0.7" transform="rotate(0 575.1 198.5)" fill="#333" stroke="#1c1c1c" stroke-width="1"/>
<path d="M565.6 188.9 L569.3 186.7 L573.7 188.2 L571.5 192.6 L566.4 194.1 Z" fill="none" stroke="#1c1c1c" stroke-width="1.3" stroke-linejoin="round" stroke-linecap="round" />
<path d="M630 129.6 L659.3 144.3 L671 151.6 L678.3 156 L692.9 158.2" fill="none" stroke="#1c1c1c" stroke-width="1.4" stroke-linejoin="round" stroke-linecap="round" />
<path d="M658.5 141.3 L658.5 128.5 L661 127 L699.1 149.4 L703.2 151.9 L705.4 158.9 L706.1 168 L702 176.5 L698.8 179.4" fill="none" stroke="#1c1c1c" stroke-width="1.7" stroke-linejoin="round" stroke-linecap="round" />
<path d="M659.3 141.3 L696.1 154.2" fill="none" stroke="#1c1c1c" stroke-width="1.3" stroke-linejoin="round" stroke-linecap="round" />
<path d="M696.1 154.2 L698.8 150.1" fill="none" stroke="#1c1c1c" stroke-width="1.2" stroke-linejoin="round" stroke-linecap="round" />
<path d="M671 138.4 L691.5 147.2" fill="none" stroke="#555" stroke-width="1" stroke-linejoin="round" stroke-linecap="round" />
<path d="M671 140.5 L691.5 148.7" fill="none" stroke="#555" stroke-width="1" stroke-linejoin="round" stroke-linecap="round" />
<path d="M671 142.5 L691.5 150.1" fill="none" stroke="#555" stroke-width="1" stroke-linejoin="round" stroke-linecap="round" />
<path d="M671 144.6 L691.5 151.6" fill="none" stroke="#555" stroke-width="1" stroke-linejoin="round" stroke-linecap="round" />
<path d="M641.7 180.9 L692.9 158.2" fill="none" stroke="#1c1c1c" stroke-width="1.6" stroke-linejoin="round" stroke-linecap="round" />
<path d="M643.5 183.5 L694.1 160.7" fill="none" stroke="#1c1c1c" stroke-width="1.2" stroke-linejoin="round" stroke-linecap="round" />
<path d="M654.9 182.3 L688.5 166.2" fill="none" stroke="#333" stroke-width="1.9" stroke-linejoin="round" stroke-linecap="round" />
<path d="M630 191.1 L685.6 167.7" fill="none" stroke="#1c1c1c" stroke-width="1.1" stroke-linejoin="round" stroke-linecap="round" />
<path d="M630 194.8 L685.6 171.3" fill="none" stroke="#1c1c1c" stroke-width="1.1" stroke-linejoin="round" stroke-linecap="round" />
<path d="M630 198.4 L685.6 175" fill="none" stroke="#1c1c1c" stroke-width="1.1" stroke-linejoin="round" stroke-linecap="round" />
<path d="M635.9 158.9 C637.3 157.3 641.2 153.8 644.6 153.8 C648 153.8 654.9 156.3 656.3 158.9 C657.8 161.5 656.3 167.4 653.4 169.1 C650.5 170.9 641.7 170.1 638.8 169.1 C635.9 168.2 636.3 165 635.9 163.3 C635.4 161.6 634.4 160.5 635.9 158.9 Z" fill="none" stroke="#1c1c1c" stroke-width="1.4" stroke-linejoin="round" stroke-linecap="round" />
<path d="M638.8 161.8 C640 161.1 643.9 157.7 646.1 157.4 C648.3 157.2 651 159.9 652 160.4" fill="none" stroke="#1c1c1c" stroke-width="1.1" stroke-linejoin="round" stroke-linecap="round" />
<ellipse cx="697.3" cy="172.4" rx="2.6" ry="4" transform="rotate(20 697.3 172.4)" fill="none" stroke="#1c1c1c" stroke-width="1.4"/>
<path d="M654.9 158.9 L663.7 156 L672.4 154.5 L673.9 161.8 L671 166.2" fill="none" stroke="#1c1c1c" stroke-width="1.2" stroke-linejoin="round" stroke-linecap="round" />
<ellipse cx="655.6" cy="170.6" rx="2.4" ry="3" transform="rotate(0 655.6 170.6)" fill="none" stroke="#1c1c1c" stroke-width="1.4"/>
<path d="M688.5 182.3 L691.5 183.8 L703.2 192.6 L706.1 202.8" fill="none" stroke="#1c1c1c" stroke-width="1.3" stroke-linejoin="round" stroke-linecap="round" />
<path d="M698.8 179.4 L700.2 188.2 L703.2 192.6" fill="none" stroke="#1c1c1c" stroke-width="1.2" stroke-linejoin="round" stroke-linecap="round" />
<path d="M638.8 205 L647.6 191.1" fill="none" stroke="#1c1c1c" stroke-width="1.2" stroke-linejoin="round" stroke-linecap="round" />
<path d="M642.4 205 L651.2 191.1" fill="none" stroke="#1c1c1c" stroke-width="1.2" stroke-linejoin="round" stroke-linecap="round" />
<path d="M646.1 205 L654.9 191.1" fill="none" stroke="#1c1c1c" stroke-width="1.2" stroke-linejoin="round" stroke-linecap="round" />
<path d="M649.8 205 L658.5 191.1" fill="none" stroke="#1c1c1c" stroke-width="1.2" stroke-linejoin="round" stroke-linecap="round" />
<path d="M630 183.8 L641.7 180.9" fill="none" stroke="#1c1c1c" stroke-width="1.2" stroke-linejoin="round" stroke-linecap="round" />
<path d="M663.7 191.1 L688.5 182.3" fill="none" stroke="#1c1c1c" stroke-width="1.2" stroke-linejoin="round" stroke-linecap="round" />
<path d="M665.1 197 L691.5 185.2" fill="none" stroke="#1c1c1c" stroke-width="1.1" stroke-linejoin="round" stroke-linecap="round" />
<path d="M570.9 181.5 L608.3 196.1 L640 178.3" fill="none" stroke="#1c1c1c" stroke-width="1.3" stroke-linejoin="round" stroke-linecap="round" />
<path d="M572.5 184.8 L606.7 199.4 L616.4 201 L631.1 192.9 L640 188" fill="none" stroke="#1c1c1c" stroke-width="1.2" stroke-linejoin="round" stroke-linecap="round" />
<path d="M569.3 188 L606.7 203.5 L618 206.7 L621.3 212.4" fill="none" stroke="#1c1c1c" stroke-width="1.3" stroke-linejoin="round" stroke-linecap="round" />
<path d="M553 197.8 L618 222.2" fill="none" stroke="#1c1c1c" stroke-width="1.4" stroke-linejoin="round" stroke-linecap="round" />
<path d="M552.2 201 L616.4 225.4" fill="none" stroke="#1c1c1c" stroke-width="1.1" stroke-linejoin="round" stroke-linecap="round" />
<path d="M549.8 207.5 L614.8 230.3" fill="none" stroke="#1c1c1c" stroke-width="1.4" stroke-linejoin="round" stroke-linecap="round" />
<path d="M548.9 211.1 L614 233.9" fill="none" stroke="#1c1c1c" stroke-width="1.1" stroke-linejoin="round" stroke-linecap="round" />
<path d="M546.5 217.3 L611.5 240" fill="none" stroke="#1c1c1c" stroke-width="1.4" stroke-linejoin="round" stroke-linecap="round" />
<path d="M544.9 221.3 L609.9 244.1" fill="none" stroke="#1c1c1c" stroke-width="1.1" stroke-linejoin="round" stroke-linecap="round" />
<path d="M540 228.7 L608.3 251.4" fill="none" stroke="#1c1c1c" stroke-width="1.4" stroke-linejoin="round" stroke-linecap="round" />
<path d="M540 233.5 L605 256.3" fill="none" stroke="#1c1c1c" stroke-width="1.1" stroke-linejoin="round" stroke-linecap="round" />
<path d="M540 243.3 L601.8 262.8" fill="none" stroke="#1c1c1c" stroke-width="1.3" stroke-linejoin="round" stroke-linecap="round" />
<path d="M540 248.2 L598.5 269.3" fill="none" stroke="#1c1c1c" stroke-width="1.1" stroke-linejoin="round" stroke-linecap="round" />
<path d="M540 256.3 L593.7 275" fill="none" stroke="#1c1c1c" stroke-width="1.2" stroke-linejoin="round" stroke-linecap="round" />
<path d="M569.3 188 L553 197.8" fill="none" stroke="#1c1c1c" stroke-width="1.2" stroke-linejoin="round" stroke-linecap="round" />
<path d="M618 222.2 L603.4 246.5" fill="none" stroke="#1c1c1c" stroke-width="1.2" stroke-linejoin="round" stroke-linecap="round" />
<path d="M616.4 201 L611.5 223.8" fill="none" stroke="#1c1c1c" stroke-width="1.2" stroke-linejoin="round" stroke-linecap="round" />
<path d="M556.3 205.9 L551.4 217.3" fill="none" stroke="#1c1c1c" stroke-width="1.2" stroke-linejoin="round" stroke-linecap="round" />
<path d="M579 212.4 L572.5 225.4" fill="none" stroke="#1c1c1c" stroke-width="1.2" stroke-linejoin="round" stroke-linecap="round" />
<path d="M588.8 217.3 L582.3 231.9" fill="none" stroke="#1c1c1c" stroke-width="1.2" stroke-linejoin="round" stroke-linecap="round" />
<path d="M601.8 223.8 L593.7 240" fill="none" stroke="#1c1c1c" stroke-width="1.2" stroke-linejoin="round" stroke-linecap="round" />
<path d="M566 228.7 L559.5 241.7" fill="none" stroke="#1c1c1c" stroke-width="1.2" stroke-linejoin="round" stroke-linecap="round" />
<path d="M608.3 251.4 L605 266.1" fill="none" stroke="#1c1c1c" stroke-width="1.2" stroke-linejoin="round" stroke-linecap="round" />
<path d="M621.3 212.4 L616.4 228.7" fill="none" stroke="#1c1c1c" stroke-width="1.2" stroke-linejoin="round" stroke-linecap="round" />
<path d="M582.3 235.2 L577.4 248.2" fill="none" stroke="#1c1c1c" stroke-width="1.2" stroke-linejoin="round" stroke-linecap="round" />
<circle cx="575" cy="197.8" r="2.4" fill="none" stroke="#1c1c1c" stroke-width="1.4"/>
<circle cx="575" cy="197.8" r="1" fill="#333" stroke="#1c1c1c" stroke-width="1"/>
<circle cx="606.7" cy="216.5" r="2" fill="none" stroke="#1c1c1c" stroke-width="1.4"/>
<circle cx="606.7" cy="216.5" r="0.8" fill="#333" stroke="#1c1c1c" stroke-width="1"/>
<circle cx="593.7" cy="208.3" r="1.6" fill="none" stroke="#1c1c1c" stroke-width="1.4"/>
<circle cx="593.7" cy="208.3" r="0.6" fill="#333" stroke="#1c1c1c" stroke-width="1"/>
<circle cx="544.9" cy="231.1" r="2" fill="none" stroke="#1c1c1c" stroke-width="1.4"/>
<circle cx="544.9" cy="231.1" r="0.8" fill="#333" stroke="#1c1c1c" stroke-width="1"/>
<circle cx="567.6" cy="244.1" r="2" fill="none" stroke="#1c1c1c" stroke-width="1.4"/>
<circle cx="567.6" cy="244.1" r="0.8" fill="#333" stroke="#1c1c1c" stroke-width="1"/>
<circle cx="587.2" cy="248.2" r="2.2" fill="none" stroke="#1c1c1c" stroke-width="1.4"/>
<circle cx="587.2" cy="248.2" r="0.9" fill="#333" stroke="#1c1c1c" stroke-width="1"/>
<circle cx="559.5" cy="214" r="1.4" fill="none" stroke="#1c1c1c" stroke-width="1.4"/>
<circle cx="559.5" cy="214" r="0.6" fill="#333" stroke="#1c1c1c" stroke-width="1"/>
<circle cx="549.8" cy="262.8" r="1.8" fill="none" stroke="#1c1c1c" stroke-width="1.4"/>
<circle cx="549.8" cy="262.8" r="0.7" fill="#333" stroke="#1c1c1c" stroke-width="1"/>
<path d="M574.1 210.8 C575.9 210 581.9 209.1 583.9 210 C585.9 210.8 586.3 214 586.3 215.7 C586.3 217.3 585.8 219.2 583.9 219.7 C582 220.3 576.7 219.7 575 218.9 C573.2 218.1 573.5 216.2 573.3 214.8 C573.2 213.5 572.4 211.6 574.1 210.8 Z" fill="#fff" stroke="#1c1c1c" stroke-width="1.4" stroke-linejoin="round" stroke-linecap="round" />
<path d="M588 223.8 L601 224.6 L601.8 233.5 L588.8 232.7 Z" fill="none" stroke="#1c1c1c" stroke-width="1.3" stroke-linejoin="round" stroke-linecap="round" />
<path d="M588.8 227 L601.5 227.8" fill="none" stroke="#1c1c1c" stroke-width="1.1" stroke-linejoin="round" stroke-linecap="round" />
<path d="M546.5 237.6 L559.5 237.6 L561.1 247.4 L548.1 247.4 Z" fill="none" stroke="#1c1c1c" stroke-width="1.4" stroke-linejoin="round" stroke-linecap="round" />
<path d="M555.4 239.2 C554.8 239.5 551.7 240.2 551.4 240.9 C551.1 241.5 553 242.6 553.8 243.3 C554.6 244 556.4 244.4 556.3 244.9 C556.1 245.5 553.6 246.3 553 246.5" fill="none" stroke="#1c1c1c" stroke-width="1.7" stroke-linejoin="round" stroke-linecap="round" />
<path d="M545.7 251.4 L555.4 251.4 L557.1 259.6 L547.3 259.6 Z" fill="none" stroke="#1c1c1c" stroke-width="1.4" stroke-linejoin="round" stroke-linecap="round" />
<path d="M553 252.7 C552.5 253.1 549.8 254.1 549.8 255 C549.7 255.9 552.2 257.4 552.7 257.9" fill="none" stroke="#1c1c1c" stroke-width="1.7" stroke-linejoin="round" stroke-linecap="round" />
<path d="M605 275 C605.6 271.3 606.4 260 608.3 253 C610.2 246.1 613.2 240 616.4 233.5 C619.7 227 623.9 219.7 627.8 214 C631.7 208.3 638 201.8 640 199.4" fill="none" stroke="#1c1c1c" stroke-width="1.6" stroke-linejoin="round" stroke-linecap="round" />
<path d="M609.9 275 C610.3 271.9 610.7 262.4 612.4 256.3 C614 250.2 616.6 244.4 619.7 238.4 C622.8 232.5 627.7 225.3 631.1 220.5 C634.4 215.8 638.5 211.7 640 210" fill="none" stroke="#1c1c1c" stroke-width="1.3" stroke-linejoin="round" stroke-linecap="round" />
<circle cx="615.6" cy="252.7" r="2.8" fill="none" stroke="#1c1c1c" stroke-width="1.4"/>
<circle cx="615.6" cy="252.7" r="1.2" fill="#333" stroke="#1c1c1c" stroke-width="1.1"/>
<path d="M609.9 223.8 L616.4 222.2 L618 230.3 L611.5 233.5 Z" fill="none" stroke="#1c1c1c" stroke-width="1.2" stroke-linejoin="round" stroke-linecap="round" />
<path d="M577.4 262.8 L592 259.6 L598.5 266.1 L595.3 275" fill="none" stroke="#1c1c1c" stroke-width="1.2" stroke-linejoin="round" stroke-linecap="round" />
<path d="M564.4 253 L582.3 251.4 L588.8 256.3" fill="none" stroke="#1c1c1c" stroke-width="1.2" stroke-linejoin="round" stroke-linecap="round" />
<path d="M478.5 331.3 L484.8 327.1 L493.3 326 L533.4 344" fill="none" stroke="#1c1c1c" stroke-width="1.6" stroke-linejoin="round" stroke-linecap="round" />
<path d="M478.5 331.3 C478.6 332.1 478.5 336.6 479.5 338.1 C480.5 339.5 481.9 341.1 486.9 344 C492 346.9 518.3 360.2 522.8 363 C527.4 365.8 525.8 365.7 526 367.7 C526.3 369.6 524.6 377.5 525 379.9 C525.3 382.3 527.5 386.9 529.2 388.4 C530.9 389.8 537.3 392.2 539.8 392.6 C542.2 393 543.3 394 550.3 391.5 C557.3 389.1 594.2 373.8 600 371.5" fill="none" stroke="#1c1c1c" stroke-width="1.7" stroke-linejoin="round" stroke-linecap="round" />
<path d="M482.3 333.4 C483 334.3 484.3 338.4 489 341.4 C493.8 344.5 518.4 357.2 522.8 359.8 C527.3 362.5 526.6 363.6 527.1 364.1" fill="none" stroke="#1c1c1c" stroke-width="1.2" stroke-linejoin="round" stroke-linecap="round" />
<path d="M528.1 369.3 C528.3 371.1 527.8 381.9 529.2 384.1 C530.5 386.4 537.3 388 539.8 388.4 C542.2 388.7 543.3 389.8 550.3 387.3 C557.3 384.8 594.2 369.6 600 367.2" fill="none" stroke="#1c1c1c" stroke-width="1.2" stroke-linejoin="round" stroke-linecap="round" />
<path d="M531.3 363 L563 351.4 L600 339.8" fill="none" stroke="#1c1c1c" stroke-width="1.3" stroke-linejoin="round" stroke-linecap="round" />
<path d="M533.4 369.3 L565.1 356.7 L600 344" fill="none" stroke="#1c1c1c" stroke-width="1.2" stroke-linejoin="round" stroke-linecap="round" />
<path d="M530.2 351.4 C530.8 350.6 528.7 347.9 533.4 346.5 C538.2 345.1 552.8 343.6 558.8 343.1 C564.8 342.7 566.5 342.8 569.3 344 C572.2 345.2 574.3 347.7 575.7 350.3 C577 353 577.1 358.2 577.4 359.8" fill="none" stroke="#1c1c1c" stroke-width="1.4" stroke-linejoin="round" stroke-linecap="round" />
<path d="M533.4 355.6 C537.6 355.1 552.2 352.7 558.8 352.9 C565.4 353 570.5 355 573.1 356.7 C575.8 358.4 574.4 361.9 574.6 363" fill="none" stroke="#1c1c1c" stroke-width="1.2" stroke-linejoin="round" stroke-linecap="round" />
<path d="M558.8 352.9 L559.8 363 L573.6 364.1" fill="none" stroke="#1c1c1c" stroke-width="1.2" stroke-linejoin="round" stroke-linecap="round" />
<path d="M577.8 341.9 L579.9 367.2" fill="none" stroke="#1c1c1c" stroke-width="1.2" stroke-linejoin="round" stroke-linecap="round" />
<path d="M584.1 339.8 L586.3 365.1" fill="none" stroke="#1c1c1c" stroke-width="1.1" stroke-linejoin="round" stroke-linecap="round" />
<path d="M508 312.3 C508.4 310.2 504.5 310.3 512.3 310.8 C520 311.3 546.7 313.4 554.5 315 C562.4 316.7 559.1 319 559.2 320.7 C559.3 322.5 561 324.3 555 325.4 C548.9 326.4 530.3 327.4 522.8 327.1 C515.4 326.7 512.6 325.7 510.2 323.3 C507.7 320.8 507.7 314.4 508 312.3 Z" fill="#fff" stroke="#1c1c1c" stroke-width="1.4" stroke-linejoin="round" stroke-linecap="round" />
<path d="M479.5 291.1 L486.9 291.1 L520.7 299.6 L550.3 308 L556.7 312.3" fill="none" stroke="#1c1c1c" stroke-width="1.3" stroke-linejoin="round" stroke-linecap="round" />
<path d="M537.6 322.8 L563 320.7 L564.1 339.8 L539.8 341.9 Z" fill="#fff" stroke="#1c1c1c" stroke-width="1.3" stroke-linejoin="round" stroke-linecap="round" />
<path d="M539.8 326 L563 324.5" fill="none" stroke="#1c1c1c" stroke-width="1.2" stroke-linejoin="round" stroke-linecap="round" />
<path d="M539.8 330.2 L563 328.8" fill="none" stroke="#1c1c1c" stroke-width="1.2" stroke-linejoin="round" stroke-linecap="round" />
<path d="M539.8 334.5 L563 333" fill="none" stroke="#1c1c1c" stroke-width="1.2" stroke-linejoin="round" stroke-linecap="round" />
<path d="M539.8 338.7 L563 337.2" fill="none" stroke="#1c1c1c" stroke-width="1.2" stroke-linejoin="round" stroke-linecap="round" />
<path d="M552.4 305.9 C552.8 304.9 553.8 300.3 554.5 299.6 C555.3 298.9 556.6 296.1 557.1 301.7 C557.6 307.3 557.4 328.1 557.5 333.4" fill="none" stroke="#1c1c1c" stroke-width="1.3" stroke-linejoin="round" stroke-linecap="round" />
<path d="M557.5 305.9 C557.9 304.9 558.8 300.3 559.6 299.6 C560.4 298.9 561.7 296.1 562.2 301.7 C562.7 307.3 562.5 328.1 562.6 333.4" fill="none" stroke="#1c1c1c" stroke-width="1.3" stroke-linejoin="round" stroke-linecap="round" />
<path d="M562.6 305.9 C562.9 304.9 563.9 300.3 564.7 299.6 C565.5 298.9 566.7 296.1 567.2 301.7 C567.7 307.3 567.6 328.1 567.7 333.4" fill="none" stroke="#1c1c1c" stroke-width="1.3" stroke-linejoin="round" stroke-linecap="round" />
<path d="M567.7 305.9 C568 304.9 569 300.3 569.8 299.6 C570.5 298.9 571.8 296.1 572.3 301.7 C572.8 307.3 572.7 328.1 572.7 333.4" fill="none" stroke="#1c1c1c" stroke-width="1.3" stroke-linejoin="round" stroke-linecap="round" />
<path d="M572.7 305.9 C573.1 304.9 574.1 300.3 574.8 299.6 C575.6 298.9 576.9 296.1 577.4 301.7 C577.9 307.3 577.7 328.1 577.8 333.4" fill="none" stroke="#1c1c1c" stroke-width="1.3" stroke-linejoin="round" stroke-linecap="round" />
<path d="M486.6 265 L490.5 261.7 L507 262.4 L540.2 276.1 L552.9 287 L560.1 298.7 L573.3 302.6 L576.8 319" fill="none" stroke="#1c1c1c" stroke-width="1.4" stroke-linejoin="round" stroke-linecap="round" />
<path d="M488.5 267.9 L507 265.2 L539.2 278.8 L551.5 289.7 L558.1 301.4 L571.4 304.9 L574.3 320.5" fill="none" stroke="#1c1c1c" stroke-width="1.1" stroke-linejoin="round" stroke-linecap="round" />
<path d="M489.3 262.6 L493.2 259.3 L509.8 260.1 L542.9 273.7 L555.6 284.7 L562.8 296.4 L576.1 300.3 L579.6 316.6" fill="none" stroke="#1c1c1c" stroke-width="1.2" stroke-linejoin="round" stroke-linecap="round" />
<path d="M491.3 265.6 L509.8 262.8 L541.9 276.5 L554.2 287.4 L560.9 299.1 L574.1 302.6 L577 318.2" fill="none" stroke="#1c1c1c" stroke-width="1.1" stroke-linejoin="round" stroke-linecap="round" />
<path d="M492 260.3 L495.9 257 L512.5 257.8 L545.6 271.4 L558.3 282.3 L565.5 294 L578.8 297.9 L582.3 314.3" fill="none" stroke="#1c1c1c" stroke-width="1.2" stroke-linejoin="round" stroke-linecap="round" />
<path d="M494 263.2 L512.5 260.5 L544.7 274.1 L557 285.1 L563.6 296.7 L576.8 300.3 L579.8 315.9" fill="none" stroke="#1c1c1c" stroke-width="1.1" stroke-linejoin="round" stroke-linecap="round" />
<path d="M494.8 257.9 L498.7 254.6 L515.2 255.4 L548.4 269.1 L561.1 280 L568.3 291.7 L581.5 295.6 L585 312" fill="none" stroke="#1c1c1c" stroke-width="1.2" stroke-linejoin="round" stroke-linecap="round" />
<path d="M496.7 260.9 L515.2 258.1 L547.4 271.8 L559.7 282.7 L566.3 294.4 L579.6 297.9 L582.5 313.5" fill="none" stroke="#1c1c1c" stroke-width="1.1" stroke-linejoin="round" stroke-linecap="round" />
<path d="M517.8 253.3 L542.1 227.9 L548 226.6 L575.3 246.1 L574.3 254.2 L551.9 270.2 L547 269.1 L518.7 257.8 Z" fill="#fff" stroke="#1c1c1c" stroke-width="1.6" stroke-linejoin="round" stroke-linecap="round" />
<path d="M521.7 253.9 L543.1 231.8 L547.6 230.5 L571.4 246.8 L570.4 253.3 L550.9 266.9 L548 266.3 L521.1 256.2 Z" fill="none" stroke="#1c1c1c" stroke-width="1.1" stroke-linejoin="round" stroke-linecap="round" />
<circle cx="544.5" cy="231.8" r="2" fill="none" stroke="#1c1c1c" stroke-width="1.4"/>
<circle cx="544.5" cy="231.8" r="0.8" fill="#333" stroke="#1c1c1c" stroke-width="1"/>
<circle cx="568.5" cy="244.5" r="2" fill="none" stroke="#1c1c1c" stroke-width="1.4"/>
<circle cx="568.5" cy="244.5" r="0.8" fill="#333" stroke="#1c1c1c" stroke-width="1"/>
<circle cx="523" cy="253.3" r="2" fill="none" stroke="#1c1c1c" stroke-width="1.4"/>
<circle cx="523" cy="253.3" r="0.8" fill="#333" stroke="#1c1c1c" stroke-width="1"/>
<circle cx="548" cy="266.3" r="2" fill="none" stroke="#1c1c1c" stroke-width="1.4"/>
<circle cx="548" cy="266.3" r="0.8" fill="#333" stroke="#1c1c1c" stroke-width="1"/>
<path d="M530.4 244.5 L536.3 240.6 L545.1 248.4 L539.2 253.3 Z" fill="none" stroke="#1c1c1c" stroke-width="1.3" stroke-linejoin="round" stroke-linecap="round" />
<path d="M532 243.5 L542.1 251.3" fill="none" stroke="#1c1c1c" stroke-width="1.3" stroke-linejoin="round" stroke-linecap="round" />
<path d="M547 239 L553.8 234.7 L560.7 241.6 L553.8 246.1 Z" fill="none" stroke="#1c1c1c" stroke-width="1.3" stroke-linejoin="round" stroke-linecap="round" />
<path d="M555.8 236.7 C555 237.2 550.9 238.8 550.9 239.6 C550.9 240.4 555.3 240.8 555.8 241.6 C556.3 242.4 554.2 244 553.8 244.5" fill="none" stroke="#1c1c1c" stroke-width="1.4" stroke-linejoin="round" stroke-linecap="round" />
<path d="M528.5 257.2 C529.8 255.9 533.5 254.1 536.3 254.2 C539.1 254.4 543.8 256.7 545.1 258.1 C546.4 259.6 545.6 261.9 544.1 263 C542.6 264.2 538.9 265.1 536.3 265 C533.7 264.8 529.8 263.3 528.5 262 C527.2 260.7 527.2 258.5 528.5 257.2 Z" fill="none" stroke="#1c1c1c" stroke-width="1.4" stroke-linejoin="round" stroke-linecap="round" />
<path d="M531.4 258.1 C532.4 257.4 535.5 256.4 537.3 256.6 C539.1 256.7 542.1 258.1 542.1 259.1 C542.1 260.1 539.1 262.1 537.3 262.4 C535.5 262.8 532.4 261.8 531.4 261.1 C530.4 260.4 530.4 258.9 531.4 258.1 Z" fill="none" stroke="#1c1c1c" stroke-width="1.1" stroke-linejoin="round" stroke-linecap="round" />
<path d="M548 251.3 L557.7 250.3 L558.7 257.2 L549.9 259.1 Z" fill="none" stroke="#1c1c1c" stroke-width="1.2" stroke-linejoin="round" stroke-linecap="round" />
<path d="M489.4 278.5 C489.5 276.4 491.3 274.4 492.2 273.8 C493.1 273.2 493.7 271.6 497.5 273.2 C501.3 274.7 521.1 285 525 287.3 C528.9 289.6 530.2 291.6 530.9 292.8 C531.5 294.1 531.1 297.2 530.5 297.9 C529.8 298.6 528.3 299.4 525 299.2 C521.6 298.9 505.6 296.7 501.7 295.8 C497.8 294.9 493 293.6 491.6 291.6 C490.1 289.5 489.4 280.5 489.4 278.5 Z" fill="#fff" stroke="#1c1c1c" stroke-width="1.7" stroke-linejoin="round" stroke-linecap="round" />
<path d="M493.3 277.4 C498.2 279.5 517 287.3 522.8 290.1 C528.7 292.9 527.2 293.6 528.1 294.3" fill="none" stroke="#1c1c1c" stroke-width="1.1" stroke-linejoin="round" stroke-linecap="round" />
<path d="M489.5 272.8 C488.6 273.2 483.1 274.9 481.7 276.1 C480.3 277.2 478.2 278.9 477.8 282.5 C477.4 286.1 477.7 302.7 478.2 306.9 C478.6 311.1 480.4 316.3 481.7 318.6 C483 320.9 487.9 325 489.5 326.4 C491.1 327.7 494.7 329.8 495.3 330.3" fill="none" stroke="#1c1c1c" stroke-width="1.7" stroke-linejoin="round" stroke-linecap="round" />
<path d="M478.8 289.3 L489.5 292.3 L499.2 294.2" fill="none" stroke="#1c1c1c" stroke-width="1.3" stroke-linejoin="round" stroke-linecap="round" />
<path d="M478.8 294 L489.5 296.9 L499.2 298.9" fill="none" stroke="#1c1c1c" stroke-width="1.3" stroke-linejoin="round" stroke-linecap="round" />
<path d="M478.8 298.7 L489.5 301.6 L499.2 303.6" fill="none" stroke="#1c1c1c" stroke-width="1.3" stroke-linejoin="round" stroke-linecap="round" />
<path d="M478.8 303.4 L489.5 306.3 L499.2 308.3" fill="none" stroke="#1c1c1c" stroke-width="1.3" stroke-linejoin="round" stroke-linecap="round" />
<path d="M478.8 308.1 L489.5 311 L499.2 312.9" fill="none" stroke="#1c1c1c" stroke-width="1.3" stroke-linejoin="round" stroke-linecap="round" />
<path d="M478.8 312.7 L489.5 315.7 L499.2 317.6" fill="none" stroke="#1c1c1c" stroke-width="1.3" stroke-linejoin="round" stroke-linecap="round" />
<path d="M499.2 310.8 L509 306.9 L551.9 316.6 L556.8 322.1 L553.8 326.4 L510.9 318.6 L503.1 316.6 Z" fill="#fff" stroke="#1c1c1c" stroke-width="1.4" stroke-linejoin="round" stroke-linecap="round" />
<path d="M509 306.9 L511.9 318.2" fill="none" stroke="#1c1c1c" stroke-width="1.2" stroke-linejoin="round" stroke-linecap="round" />
<path d="M526.5 310.8 L528.5 322.5" fill="none" stroke="#1c1c1c" stroke-width="1.1" stroke-linejoin="round" stroke-linecap="round" />
<path d="M551.9 277.6 C552.5 278.3 554.9 278.6 555.8 281.5 C556.7 284.5 557 288.4 557.3 295.2 C557.7 302 557.7 317.9 557.7 322.5" fill="none" stroke="#1c1c1c" stroke-width="1.3" stroke-linejoin="round" stroke-linecap="round" />
<path d="M556.6 278.6 C557.2 279.3 559.6 279.8 560.5 282.5 C561.4 285.3 561.7 288.5 562 295.2 C562.4 301.9 562.4 317.9 562.4 322.5" fill="none" stroke="#1c1c1c" stroke-width="1.3" stroke-linejoin="round" stroke-linecap="round" />
<path d="M561.2 279.6 C561.9 280.2 564.2 280.9 565.1 283.5 C566.1 286.1 566.4 288.7 566.7 295.2 C567 301.7 567 317.9 567.1 322.5" fill="none" stroke="#1c1c1c" stroke-width="1.3" stroke-linejoin="round" stroke-linecap="round" />
<path d="M565.9 280.6 C566.6 281.2 568.9 282 569.8 284.5 C570.7 286.9 571.1 288.9 571.4 295.2 C571.7 301.5 571.7 317.9 571.8 322.5" fill="none" stroke="#1c1c1c" stroke-width="1.3" stroke-linejoin="round" stroke-linecap="round" />
<path d="M570.6 281.5 C571.3 282.2 573.6 283.2 574.5 285.4 C575.4 287.7 575.7 289 576.1 295.2 C576.4 301.4 576.4 317.9 576.5 322.5" fill="none" stroke="#1c1c1c" stroke-width="1.3" stroke-linejoin="round" stroke-linecap="round" />
<path d="M540.2 322.5 C541.5 322.2 545.4 320.5 548 320.5 C550.6 320.5 554.5 322.2 555.8 322.5" fill="none" stroke="#1c1c1c" stroke-width="1.2" stroke-linejoin="round" stroke-linecap="round" />
<path d="M540.2 326.4 C541.5 326.1 545.4 324.4 548 324.4 C550.6 324.4 554.5 326.1 555.8 326.4" fill="none" stroke="#1c1c1c" stroke-width="1.2" stroke-linejoin="round" stroke-linecap="round" />
<path d="M540.2 330.3 C541.5 330 545.4 328.3 548 328.3 C550.6 328.3 554.5 330 555.8 330.3" fill="none" stroke="#1c1c1c" stroke-width="1.2" stroke-linejoin="round" stroke-linecap="round" />
<path d="M563.6 275.7 C565.5 275 571.4 272 575.3 271.8 C579.2 271.6 583.7 272.8 587 274.7 C590.2 276.7 593.2 279.4 594.8 283.5 C596.4 287.6 597.4 294.5 596.7 299.1 C596.1 303.6 591.9 308.8 590.9 310.8" fill="none" stroke="#1c1c1c" stroke-width="1.4" stroke-linejoin="round" stroke-linecap="round" />
<path d="M579.2 279.6 C580.2 280.2 583.7 281.2 585 283.5 C586.3 285.8 587.3 290 587 293.2 C586.7 296.5 583.7 301.4 583.1 303" fill="none" stroke="#333" stroke-width="2.4" stroke-linejoin="round" stroke-linecap="round" />
<path d="M575.3 287.4 L579.2 303 L587 306.9" fill="none" stroke="#1c1c1c" stroke-width="1.2" stroke-linejoin="round" stroke-linecap="round" />
<path d="M587 283.5 L594.8 289.3" fill="none" stroke="#1c1c1c" stroke-width="1.9" stroke-linejoin="round" stroke-linecap="round" />
<path d="M579.2 308.8 L590.9 303 L596.7 306.9" fill="none" stroke="#333" stroke-width="1.8" stroke-linejoin="round" stroke-linecap="round" />
<path d="M571.4 273.7 C572.7 272.4 575.9 267.6 579.2 265.9 C582.4 264.3 587 263.7 590.9 264 C594.8 264.3 599.4 265.9 602.6 267.9 C605.8 269.8 608.8 274.4 610 275.7" fill="none" stroke="#1c1c1c" stroke-width="1.2" stroke-linejoin="round" stroke-linecap="round" />
<path d="M611.3 306.1 C610.9 302.3 609.2 290.4 609.3 283.3 C609.5 276.3 610.1 270.2 612.1 263.8 C614 257.4 616.8 250.5 621 245.1 C625.2 239.7 631.1 234.4 637.3 231.3 C643.5 228.1 652.5 226.4 658.5 226.1 C664.4 225.7 670.7 228.8 673.1 229.3" fill="none" stroke="#1c1c1c" stroke-width="1.7" stroke-linejoin="round" stroke-linecap="round" />
<path d="M615.3 302.9 C615.1 299.6 613.6 289.6 613.7 283.3 C613.9 277.1 614.4 271.3 616.2 265.4 C617.9 259.6 620.5 253.4 624.3 248.4 C628.1 243.3 633.2 238.3 638.9 235.3 C644.6 232.4 653 230.9 658.5 230.5 C663.9 230.1 669.3 232.5 671.5 232.9" fill="none" stroke="#1c1c1c" stroke-width="1.3" stroke-linejoin="round" stroke-linecap="round" />
<ellipse cx="649" cy="270" rx="27.5" ry="37" transform="rotate(18 649 270)" fill="none" stroke="#1c1c1c" stroke-width="1.8"/>
<ellipse cx="649.5" cy="270.5" rx="24.8" ry="34.2" transform="rotate(18 649.5 270.5)" fill="none" stroke="#1c1c1c" stroke-width="1.3"/>
<path d="M651.3 259 L653 264.3 L658.1 263.7 L655.9 268.8 L659.9 272.3 L655 274.2 L655.5 279.8 L650.9 277.3 L647.7 281.7 L646 276.4 L640.9 277 L643.2 271.9 L639.2 268.3 L644 266.5 L643.5 260.9 L648.1 263.3 Z" fill="#fff" stroke="#1c1c1c" stroke-width="1.6" stroke-linejoin="round" stroke-linecap="round" />
<path d="M654.5 270.3 L652 275.1 L647 275.1 L644.5 270.3 L647 265.6 L652 265.6 Z" fill="none" stroke="#1c1c1c" stroke-width="1.3" stroke-linejoin="round" stroke-linecap="round" />
<ellipse cx="649.5" cy="270.3" rx="2.6" ry="3" transform="rotate(0 649.5 270.3)" fill="none" stroke="#1c1c1c" stroke-width="1.3"/>
<path d="M625.9 263.8 L632.4 257.3" fill="none" stroke="#2a2a2a" stroke-width="1.9" stroke-linejoin="round" stroke-linecap="round" />
<path d="M634.1 250.8 L642.2 247.5" fill="none" stroke="#2a2a2a" stroke-width="1.7" stroke-linejoin="round" stroke-linecap="round" />
<path d="M652 241 L663.3 245.9" fill="none" stroke="#2a2a2a" stroke-width="2.2" stroke-linejoin="round" stroke-linecap="round" />
<path d="M661.7 252.4 L666.6 260.6" fill="none" stroke="#2a2a2a" stroke-width="1.7" stroke-linejoin="round" stroke-linecap="round" />
<path d="M627.5 283.3 L637.3 291.5" fill="none" stroke="#2a2a2a" stroke-width="1.9" stroke-linejoin="round" stroke-linecap="round" />
<path d="M638.9 293.1 L648.7 291.5" fill="none" stroke="#2a2a2a" stroke-width="1.7" stroke-linejoin="round" stroke-linecap="round" />
<path d="M656.8 286.6 L665 280.1" fill="none" stroke="#2a2a2a" stroke-width="1.9" stroke-linejoin="round" stroke-linecap="round" />
<path d="M666.6 268.7 L671.5 276.8" fill="none" stroke="#2a2a2a" stroke-width="1.4" stroke-linejoin="round" stroke-linecap="round" />
<path d="M643.8 254.1 L648.7 252.4" fill="none" stroke="#2a2a2a" stroke-width="1.4" stroke-linejoin="round" stroke-linecap="round" />
<path d="M630.8 272 L635.7 276.8" fill="none" stroke="#2a2a2a" stroke-width="2.2" stroke-linejoin="round" stroke-linecap="round" />
<path d="M632.4 286.6 L638.9 283.3" fill="none" stroke="#2a2a2a" stroke-width="2.6" stroke-linejoin="round" stroke-linecap="round" />
<path d="M658.5 242.7 L660.1 247.5" fill="none" stroke="#2a2a2a" stroke-width="1.9" stroke-linejoin="round" stroke-linecap="round" />
<path d="M629.2 273.6 C630 273 632.4 270.3 634.1 270.3 C635.7 270.3 638.4 272 638.9 273.6 C639.5 275.2 638.4 278.7 637.3 280.1 C636.2 281.4 633.2 281.4 632.4 281.7" fill="none" stroke="#1c1c1c" stroke-width="1.6" stroke-linejoin="round" stroke-linecap="round" />
<path d="M632.4 285 C633.5 284.6 636.8 285.5 637.3 286.6 C637.9 287.7 636.8 291.1 635.7 291.5 C634.6 291.9 631.3 290.1 630.8 289 C630.3 288 631.3 285.4 632.4 285 Z" fill="none" stroke="#1c1c1c" stroke-width="1.4" stroke-linejoin="round" stroke-linecap="round" />
<path d="M648.7 247.5 C650.1 247.8 654.4 247.8 656.8 249.2 C659.3 250.5 662.3 254.6 663.3 255.7" fill="none" stroke="#1c1c1c" stroke-width="1.3" stroke-linejoin="round" stroke-linecap="round" />
<path d="M627.5 291.5 C628.6 292.6 631.6 296.4 634.1 298 C636.5 299.6 640.8 300.7 642.2 301.2" fill="none" stroke="#1c1c1c" stroke-width="1.2" stroke-linejoin="round" stroke-linecap="round" />
<circle cx="614.5" cy="251.6" r="2.2" fill="none" stroke="#1c1c1c" stroke-width="1.3"/>
<path d="M679.6 253.2 L686.1 255.7 L699.1 270.3 L692.6 285 L676.4 287.4 L673.1 283.3 Z" fill="#fff" stroke="#1c1c1c" stroke-width="1.4" stroke-linejoin="round" stroke-linecap="round" />
<path d="M681.2 260.6 L692.6 271.1 L687.8 281.7 L677.2 283.3 Z" fill="none" stroke="#1c1c1c" stroke-width="1.2" stroke-linejoin="round" stroke-linecap="round" />
<path d="M676.4 239.4 L682.9 237.8 L692.6 242.7 L699.1 247.5" fill="none" stroke="#1c1c1c" stroke-width="1.2" stroke-linejoin="round" stroke-linecap="round" />
<path d="M678 245.9 L686.1 245.9 L699.1 252.4" fill="none" stroke="#1c1c1c" stroke-width="1.2" stroke-linejoin="round" stroke-linecap="round" />
<path d="M663.3 291.5 L665 315.1" fill="none" stroke="#1c1c1c" stroke-width="1.2" stroke-linejoin="round" stroke-linecap="round" />
<path d="M668.2 289.9 L669.9 315.1" fill="none" stroke="#1c1c1c" stroke-width="1.2" stroke-linejoin="round" stroke-linecap="round" />
<path d="M686.5 222.8 L690.8 221.3 L710.3 234.7 L709.2 239.5 L705.3 240.8 L685 227.8 Z" fill="#fff" stroke="#1c1c1c" stroke-width="1.6" stroke-linejoin="round" stroke-linecap="round" />
<ellipse cx="707.9" cy="237.3" rx="2.4" ry="4.2" transform="rotate(35 707.9 237.3)" fill="#fff" stroke="#1c1c1c" stroke-width="1.4"/>
<path d="M694.1 223.9 L691.9 229.3" fill="none" stroke="#1c1c1c" stroke-width="1.1" stroke-linejoin="round" stroke-linecap="round" />
<path d="M695.6 224.9 L693.4 230.3" fill="none" stroke="#1c1c1c" stroke-width="1.1" stroke-linejoin="round" stroke-linecap="round" />
<path d="M697.1 225.9 L694.9 231.3" fill="none" stroke="#1c1c1c" stroke-width="1.1" stroke-linejoin="round" stroke-linecap="round" />
<path d="M698.6 226.8 L696.4 232.2" fill="none" stroke="#1c1c1c" stroke-width="1.1" stroke-linejoin="round" stroke-linecap="round" />
<path d="M700.1 227.8 L697.9 233.2" fill="none" stroke="#1c1c1c" stroke-width="1.1" stroke-linejoin="round" stroke-linecap="round" />
<path d="M701.6 228.8 L699.5 234.2" fill="none" stroke="#1c1c1c" stroke-width="1.1" stroke-linejoin="round" stroke-linecap="round" />
<path d="M703.1 229.8 L701 235.2" fill="none" stroke="#1c1c1c" stroke-width="1.1" stroke-linejoin="round" stroke-linecap="round" />
<path d="M704.6 230.7 L702.5 236.1" fill="none" stroke="#1c1c1c" stroke-width="1.1" stroke-linejoin="round" stroke-linecap="round" />
<path d="M672.4 228.2 L685 227.8" fill="none" stroke="#1c1c1c" stroke-width="1.2" stroke-linejoin="round" stroke-linecap="round" />
<path d="M674.6 234.7 L689.7 236.9" fill="none" stroke="#1c1c1c" stroke-width="1.2" stroke-linejoin="round" stroke-linecap="round" />
<path d="M689.7 189.3 L700.5 191.5 L709.2 202.3 L709.6 228.2 L707.5 231.5" fill="none" stroke="#1c1c1c" stroke-width="1.6" stroke-linejoin="round" stroke-linecap="round" />
<path d="M691.9 193.6 L702.7 195.8 L707 204.5 L707 226.1" fill="none" stroke="#1c1c1c" stroke-width="1.2" stroke-linejoin="round" stroke-linecap="round" />
<path d="M696.2 197.5 C696.9 196.5 699.7 196.1 700.5 196.9 C701.4 197.7 702.1 201.3 701.4 202.3 C700.8 203.3 697.5 204 696.6 203.2 C695.8 202.4 695.6 198.6 696.2 197.5 Z" fill="none" stroke="#1c1c1c" stroke-width="1.3" stroke-linejoin="round" stroke-linecap="round" />
<path d="M698.4 206.2 C699 205.1 701.8 204.7 702.7 205.5 C703.6 206.3 704.2 209.9 703.6 210.9 C702.9 212 699.7 212.6 698.8 211.8 C697.9 211 697.7 207.2 698.4 206.2 Z" fill="none" stroke="#1c1c1c" stroke-width="1.3" stroke-linejoin="round" stroke-linecap="round" />
<path d="M697.3 214.8 C697.9 213.8 700.8 213.4 701.6 214.2 C702.5 215 703.1 218.5 702.5 219.6 C701.8 220.6 698.6 221.3 697.7 220.5 C696.9 219.7 696.6 215.9 697.3 214.8 Z" fill="none" stroke="#1c1c1c" stroke-width="1.3" stroke-linejoin="round" stroke-linecap="round" />
<path d="M689.7 206.2 C690.4 205.1 693.2 204.7 694.1 205.5 C694.9 206.3 695.6 209.9 694.9 210.9 C694.3 212 691 212.6 690.2 211.8 C689.3 211 689.1 207.2 689.7 206.2 Z" fill="none" stroke="#1c1c1c" stroke-width="1.3" stroke-linejoin="round" stroke-linecap="round" />
<path d="M663.8 202.3 L681.1 198 L689.7 189.3" fill="none" stroke="#1c1c1c" stroke-width="1.2" stroke-linejoin="round" stroke-linecap="round" />
<path d="M661.6 213.1 L681.1 208.8 L689.7 202.3" fill="none" stroke="#1c1c1c" stroke-width="1.2" stroke-linejoin="round" stroke-linecap="round" />
<path d="M681.1 198 L683.2 210.9 L681.1 219.6" fill="none" stroke="#1c1c1c" stroke-width="1.2" stroke-linejoin="round" stroke-linecap="round" />
<ellipse cx="614.1" cy="254.2" rx="2.2" ry="2.8" transform="rotate(0 614.1 254.2)" fill="none" stroke="#1c1c1c" stroke-width="1.4"/>
<path d="M681.1 249.9 L694.1 256.4 L698.4 271.5 L689.7 286.6 L676.8 288.8" fill="none" stroke="#1c1c1c" stroke-width="1.4" stroke-linejoin="round" stroke-linecap="round" />
<path d="M680 256.4 L689.7 262.8 L689.7 275.8 L681.1 282.3" fill="none" stroke="#1c1c1c" stroke-width="1.2" stroke-linejoin="round" stroke-linecap="round" />
<path d="M678.8 268.5 L695.7 270.6 L698.9 274.8 L691.5 282.2 L675.6 287.5 L674.5 281.1 Z" fill="none" stroke="#1c1c1c" stroke-width="1.4" stroke-linejoin="round" stroke-linecap="round" />
<path d="M678.8 272.7 L693.6 273.7 L689.3 280.1 L677.7 283.3 Z" fill="none" stroke="#1c1c1c" stroke-width="1.2" stroke-linejoin="round" stroke-linecap="round" />
<path d="M698.9 274.8 L678.8 292.1 L659.8 304.8 L615.4 329.8 L611.1 334" fill="none" stroke="#1c1c1c" stroke-width="1.6" stroke-linejoin="round" stroke-linecap="round" />
<path d="M590 365.7 L615.4 346.7 L659.8 322.4 L683 306.5 L698.9 274.8" fill="none" stroke="#1c1c1c" stroke-width="1.6" stroke-linejoin="round" stroke-linecap="round" />
<path d="M615.4 329.8 L616.4 346.7" fill="none" stroke="#1c1c1c" stroke-width="1.4" stroke-linejoin="round" stroke-linecap="round" />
<path d="M611.1 302.3 L615.4 308.6 L612.2 329.8" fill="none" stroke="#1c1c1c" stroke-width="1.4" stroke-linejoin="round" stroke-linecap="round" />
<path d="M609 302.3 L610.1 329.8" fill="none" stroke="#1c1c1c" stroke-width="1.2" stroke-linejoin="round" stroke-linecap="round" />
<path d="M657.6 297 L659.8 323.4" fill="none" stroke="#1c1c1c" stroke-width="1.2" stroke-linejoin="round" stroke-linecap="round" />
<path d="M664 294.9 L665 310.7" fill="none" stroke="#1c1c1c" stroke-width="1.2" stroke-linejoin="round" stroke-linecap="round" />
<path d="M600.6 312.8 L623.8 310.7 L653.4 302.3" fill="none" stroke="#1c1c1c" stroke-width="1.2" stroke-linejoin="round" stroke-linecap="round" />
<path d="M602.7 321.3 L619.6 319.2 L645 310.7 L655.5 307.6" fill="none" stroke="#1c1c1c" stroke-width="1.2" stroke-linejoin="round" stroke-linecap="round" />
<path d="M606.9 331.9 C607.6 332.6 610.1 334 611.1 336.1 C612.2 338.2 613.3 342.1 613.3 344.5 C613.3 347 612.2 349.5 611.1 350.9 C610.1 352.3 607.6 352.7 606.9 353" fill="none" stroke="#1c1c1c" stroke-width="1.3" stroke-linejoin="round" stroke-linecap="round" />
<path d="M604.8 329.8 C605.5 331 608.1 334.3 609 337.2 C609.9 340 610.6 343.8 610.1 346.7 C609.6 349.5 606.6 352.8 605.9 354.1" fill="none" stroke="#1c1c1c" stroke-width="1.2" stroke-linejoin="round" stroke-linecap="round" />
<path d="M282 378.6 C282.6 377.6 284.3 374.7 285.9 372.7 C287.5 370.8 289.1 368.3 291.7 366.8 C294.3 365.4 298.6 364.7 301.5 363.9 C304.4 363.1 306.7 362.3 309.3 362 C311.9 361.6 313.7 361.6 317.1 362 C320.6 362.3 327.9 363.6 330 363.9" fill="none" stroke="#1c1c1c" stroke-width="1.4" stroke-linejoin="round" stroke-linecap="round" />
<path d="M283.9 379.5 C284.7 378.7 287.2 376.4 288.8 374.7 C290.4 372.9 291.4 370.6 293.7 369.2 C296 367.8 298.6 367.2 302.5 366.5 C306.4 365.7 312.5 364.5 317.1 364.5 C321.7 364.5 327.9 366.1 330 366.5" fill="none" stroke="#1c1c1c" stroke-width="1.1" stroke-linejoin="round" stroke-linecap="round" />
<path d="M282 378.6 L290.2 378.6 L292.1 384.4 L286.9 386.8 L287.8 391.2" fill="none" stroke="#1c1c1c" stroke-width="1.3" stroke-linejoin="round" stroke-linecap="round" />
<path d="M264.4 405.9 L301.5 426.4" fill="none" stroke="#1c1c1c" stroke-width="1.3" stroke-linejoin="round" stroke-linecap="round" />
<path d="M246.8 410.2 L256.6 408.8 L264.4 405.9" fill="none" stroke="#1c1c1c" stroke-width="1.2" stroke-linejoin="round" stroke-linecap="round" />
<path d="M277.1 399.1 C277.9 398.3 280.3 397.1 282 397.1 C283.7 397.1 286.8 398.1 287.4 399.1 C288.1 400 287.1 402.2 285.9 403 C284.7 403.7 281.5 403.8 280 403.5 C278.6 403.3 277.6 402.3 277.1 401.6 C276.6 400.8 276.3 399.8 277.1 399.1 Z" fill="none" stroke="#1c1c1c" stroke-width="1.6" stroke-linejoin="round" stroke-linecap="round" />
<path d="M291.7 413.3 C292.4 412.7 294.3 411.4 295.6 411.4 C296.9 411.4 299.1 412.5 299.6 413.3 C300 414.1 299.5 415.5 298.6 416 C297.7 416.6 295.2 416.8 294.1 416.6 C292.9 416.5 292.1 415.8 291.7 415.3 C291.4 414.7 291.1 414 291.7 413.3 Z" fill="none" stroke="#1c1c1c" stroke-width="1.7" stroke-linejoin="round" stroke-linecap="round" />
<path d="M264.4 392.2 L273.2 391.2 L274.2 397.1 L265.4 398.5 Z" fill="none" stroke="#1c1c1c" stroke-width="1.2" stroke-linejoin="round" stroke-linecap="round" />
<path d="M260.9 398.5 L269.9 397.3 L270.7 403 L262.1 404.3 Z" fill="none" stroke="#1c1c1c" stroke-width="1.2" stroke-linejoin="round" stroke-linecap="round" />
<path d="M278.1 353.2 L283.9 352.2 L283 355.1 L283.9 362.9 L281 363.3 L280 355.1 Z" fill="none" stroke="#1c1c1c" stroke-width="1.3" stroke-linejoin="round" stroke-linecap="round" />
<path d="M289.8 352.2 L294.7 351.2 L296.6 353.2 L294.7 362 L291.7 362 Z" fill="#555" stroke="#1c1c1c" stroke-width="1.4" stroke-linejoin="round" stroke-linecap="round" />
<path d="M305.4 359 L312.2 357.1 L313.2 362 L306.4 364.9 Z" fill="none" stroke="#1c1c1c" stroke-width="1.3" stroke-linejoin="round" stroke-linecap="round" />
<path d="M301.5 341.5 C302.8 340.8 306.7 338.5 309.3 337.6 C311.9 336.6 314.5 336.6 317.1 335.6 C319.7 334.6 323.6 332.4 324.9 331.7" fill="none" stroke="#1c1c1c" stroke-width="1.2" stroke-linejoin="round" stroke-linecap="round" />
<path d="M305.4 345.4 C306.7 344.9 310.6 343.1 313.2 342.4 C315.8 341.8 318.2 342 321 341.5 C323.8 341 328.5 339.8 330 339.5" fill="none" stroke="#1c1c1c" stroke-width="1.2" stroke-linejoin="round" stroke-linecap="round" />
<path d="M315.2 345.4 L321 349.3 L324.9 359 L330 361" fill="none" stroke="#1c1c1c" stroke-width="1.2" stroke-linejoin="round" stroke-linecap="round" />
<path d="M227.3 429.3 L233.2 425.4 L239 419.6 L242 417.6 L244.9 429.3 L248.8 437.1 L246.8 440 L227.3 440 Z" fill="#fff" stroke="#1c1c1c" stroke-width="1.4" stroke-linejoin="round" stroke-linecap="round" />
<path d="M229.3 429.3 L244.9 426.4" fill="none" stroke="#333" stroke-width="1.9" stroke-linejoin="round" stroke-linecap="round" />
<path d="M229.3 431.7 L244.9 429.1" fill="none" stroke="#333" stroke-width="1.9" stroke-linejoin="round" stroke-linecap="round" />
<path d="M229.3 434 L244.9 431.8" fill="none" stroke="#333" stroke-width="1.9" stroke-linejoin="round" stroke-linecap="round" />
<path d="M229.3 436.3 L244.9 434.6" fill="none" stroke="#333" stroke-width="1.9" stroke-linejoin="round" stroke-linecap="round" />
<path d="M239 418.6 L242 411.7 L243.9 419.6" fill="none" stroke="#1c1c1c" stroke-width="1.6" stroke-linejoin="round" stroke-linecap="round" />
<circle cx="313.2" cy="408.8" r="1.8" fill="none" stroke="#1c1c1c" stroke-width="1.3"/>
<path d="M307.4 419.6 L317.1 415.6 L321 421.5 L313.2 426.4 Z" fill="none" stroke="#1c1c1c" stroke-width="1.4" stroke-linejoin="round" stroke-linecap="round" />
<path d="M309.3 421.5 L317.1 418.6" fill="none" stroke="#333" stroke-width="2.2" stroke-linejoin="round" stroke-linecap="round" />
<path d="M624.3 257.3 C624.8 256.5 625.9 253.6 627.5 252.4 C629.2 251.2 633 250.4 634.1 250" fill="none" stroke="#2a2a2a" stroke-width="1.8" stroke-linejoin="round" stroke-linecap="round" />
<path d="M635.7 245.9 C637 245.5 641.4 244 643.8 243.5 C646.3 242.9 649.2 242.8 650.3 242.7" fill="none" stroke="#2a2a2a" stroke-width="1.6" stroke-linejoin="round" stroke-linecap="round" />
<path d="M665 247.5 C665.8 248.6 668.8 251.3 669.9 254.1 C670.9 256.8 671.2 262.2 671.5 263.8" fill="none" stroke="#2a2a2a" stroke-width="1.8" stroke-linejoin="round" stroke-linecap="round" />
<path d="M624.3 267.1 C624.2 268.7 623.2 274.1 623.5 276.8 C623.7 279.6 625.5 282.3 625.9 283.3" fill="none" stroke="#2a2a2a" stroke-width="1.8" stroke-linejoin="round" stroke-linecap="round" />
<path d="M643.8 291.5 C645.4 291.8 650.9 293.4 653.6 293.1 C656.3 292.8 659 290.4 660.1 289.9" fill="none" stroke="#2a2a2a" stroke-width="1.8" stroke-linejoin="round" stroke-linecap="round" />
<path d="M666.6 280.1 C667.1 281.2 670.1 284.4 669.9 286.6 C669.6 288.8 665.8 292 665 293.1" fill="none" stroke="#2a2a2a" stroke-width="1.6" stroke-linejoin="round" stroke-linecap="round" />
<path d="M637.3 260.6 C637.9 261.1 640 263.3 640.6 263.8" fill="none" stroke="#2a2a2a" stroke-width="3" stroke-linejoin="round" stroke-linecap="round" />
<path d="M656.8 262.2 C657.4 261.7 659.6 259.5 660.1 258.9" fill="none" stroke="#2a2a2a" stroke-width="3" stroke-linejoin="round" stroke-linecap="round" />
<path d="M643.8 283.3 C644.4 282.8 646.5 280.6 647.1 280.1" fill="none" stroke="#2a2a2a" stroke-width="3" stroke-linejoin="round" stroke-linecap="round" />
<path d="M653.6 281.7 C654.1 282.3 656.3 284.4 656.8 285" fill="none" stroke="#2a2a2a" stroke-width="3" stroke-linejoin="round" stroke-linecap="round" />
<path d="M635.7 255.7 C636.2 255.1 638.4 253 638.9 252.4" fill="none" stroke="#2a2a2a" stroke-width="2.4" stroke-linejoin="round" stroke-linecap="round" />
<path d="M660.1 272 C660.9 271.7 664.2 270.6 665 270.3" fill="none" stroke="#2a2a2a" stroke-width="2.4" stroke-linejoin="round" stroke-linecap="round" />
<path d="M630.8 296.4 C631.9 296.9 636.2 299.1 637.3 299.6" fill="none" stroke="#2a2a2a" stroke-width="2.2" stroke-linejoin="round" stroke-linecap="round" />
<path d="M648.7 234.5 C649.5 235.1 652.8 237.2 653.6 237.8" fill="none" stroke="#2a2a2a" stroke-width="2.2" stroke-linejoin="round" stroke-linecap="round" />
<path d="M642.2 237.8 C643 238.1 646.3 239.1 647.1 239.4" fill="none" stroke="#2a2a2a" stroke-width="1.8" stroke-linejoin="round" stroke-linecap="round" />
<path d="M640.6 257.3 C642.6 255.4 645.9 255.4 648.7 255.7 C651.6 256 655.8 257 657.7 258.9 C659.6 260.8 660 264.1 660.1 267.1 C660.2 270.1 659.8 274.4 658.5 276.8 C657.1 279.3 654.4 280.9 652 281.7 C649.5 282.5 646 282.5 643.8 281.7 C641.7 280.9 640.2 279.3 638.9 276.8 C637.7 274.4 636.2 270.3 636.5 267.1 C636.8 263.8 638.5 259.2 640.6 257.3 Z" fill="none" stroke="#1c1c1c" stroke-width="1.3" stroke-linejoin="round" stroke-linecap="round" />
<circle cx="140.1" cy="181.7" r="14.6" fill="rgba(236,140,62,0.30)" stroke="#e8893c" stroke-width="2.3"/>
<path d="M316.6 297.5 L338.3 309.8 L342.8 313.8 L345.3 318.3" fill="none" stroke="#1c1c1c" stroke-width="1.6" stroke-linejoin="round" stroke-linecap="round" />
<path d="M338.6 314.6 L317.8 334.6" fill="none" stroke="#1c1c1c" stroke-width="1.3" stroke-linejoin="round" stroke-linecap="round" />
<path d="M341.4 317.3 L320.3 337.3" fill="none" stroke="#1c1c1c" stroke-width="1.3" stroke-linejoin="round" stroke-linecap="round" />
<path d="M270 348.7 C271.9 347.7 277.6 344.7 281.4 343 C285.2 341.3 289 339.8 292.8 338.5 C296.5 337.1 300.7 335.7 304.1 335 C307.5 334.3 311 334.3 313.2 334.2 C315.5 334.2 317 334.7 317.8 334.8" fill="none" stroke="#1c1c1c" stroke-width="1.4" stroke-linejoin="round" stroke-linecap="round" />
<path d="M276.8 358.9 C278.5 357.2 283.5 351.7 287.1 348.7 C290.7 345.7 295 342.6 298.4 340.7 C301.9 338.8 304.7 337.9 307.5 337.3 C310.4 336.8 313.4 337.3 315.5 337.3 C317.6 337.3 319.5 337.3 320.3 337.3" fill="none" stroke="#1c1c1c" stroke-width="1.2" stroke-linejoin="round" stroke-linecap="round" />
<path d="M317.8 337.3 L326.9 342.8 L333.7 341.6 L350 332.5" fill="none" stroke="#1c1c1c" stroke-width="1.2" stroke-linejoin="round" stroke-linecap="round" />
<path d="M315.5 338.5 L316.6 345.1 L321.2 348.5 L331.4 347.6 L338.3 345.1" fill="none" stroke="#1c1c1c" stroke-width="1.2" stroke-linejoin="round" stroke-linecap="round" />
<path d="M324.6 354.2 C324.9 352.8 325.9 352.8 326.9 352.8 C327.8 352.8 329.6 353.2 330.3 354.2 C331 355.1 331.2 357.4 330.9 358.7 C330.5 360 329 361.7 328 362.1 C327.1 362.5 325.7 362.3 325.2 361 C324.6 359.7 324.3 355.5 324.6 354.2 Z" fill="none" stroke="#1c1c1c" stroke-width="1.3" stroke-linejoin="round" stroke-linecap="round" />
<ellipse cx="340.5" cy="355.1" rx="1.6" ry="2.4" transform="rotate(30 340.5 355.1)" fill="none" stroke="#1c1c1c" stroke-width="1.4"/>
<path d="M343.4 316.1 L349 323.6 L355.9 333.2 L360 338.8 L368.3 341.5 L379.3 342.9 L386.2 346.2" fill="none" stroke="#1c1c1c" stroke-width="1.4" stroke-linejoin="round" stroke-linecap="round" />
<path d="M346.2 316.1 L351.4 323.3 L357.7 331.3 L362.5 337.1 L370.8 339.2 L381.8 341 L390.1 344.7" fill="none" stroke="#1c1c1c" stroke-width="1.2" stroke-linejoin="round" stroke-linecap="round" />
<path d="M350.1 328.1 L352.8 326" fill="none" stroke="#333" stroke-width="2.2" stroke-linejoin="round" stroke-linecap="round" />
<path d="M353.5 330.6 L356.3 328.5" fill="none" stroke="#333" stroke-width="2.2" stroke-linejoin="round" stroke-linecap="round" />
<path d="M357 333.1 L359.7 331" fill="none" stroke="#333" stroke-width="2.2" stroke-linejoin="round" stroke-linecap="round" />
<path d="M360.4 335.6 L363.2 333.5" fill="none" stroke="#333" stroke-width="2.2" stroke-linejoin="round" stroke-linecap="round" />
<path d="M363.9 338.1 L366.6 336" fill="none" stroke="#333" stroke-width="2.2" stroke-linejoin="round" stroke-linecap="round" />
<path d="M367.3 340.6 L370.1 338.5" fill="none" stroke="#333" stroke-width="2.2" stroke-linejoin="round" stroke-linecap="round" />
<path d="M351.4 331.6 L359.7 338.5 L369.4 340.6" fill="none" stroke="#444" stroke-width="1.9" stroke-linejoin="round" stroke-linecap="round" />
<path d="M310 363.3 L319.7 362.7 L343.4 371.9 L347.6 376.7" fill="none" stroke="#1c1c1c" stroke-width="1.4" stroke-linejoin="round" stroke-linecap="round" />
<path d="M310 366.1 L319.7 365.4 L342.5 374.4 L345.2 378.5" fill="none" stroke="#1c1c1c" stroke-width="1.2" stroke-linejoin="round" stroke-linecap="round" />
<path d="M344.8 359.5 L357 348.1 L370.8 355.1 L358.6 367.5 Z" fill="none" stroke="#1c1c1c" stroke-width="1.3" stroke-linejoin="round" stroke-linecap="round" />
<path d="M348.7 360.6 L357.7 353 L368 357.1" fill="none" stroke="#1c1c1c" stroke-width="1.1" stroke-linejoin="round" stroke-linecap="round" />
<path d="M343.8 348.1 C344.3 347.1 346 345.2 347.3 344.7 C348.6 344.2 350.7 344.7 351.4 345.4 C352.1 346.1 352 347.8 351.4 348.8 C350.9 349.9 349.2 351.2 348 351.6 C346.8 352 344.9 351.8 344.3 351.2 C343.6 350.6 343.3 349.2 343.8 348.1 Z" fill="none" stroke="#1c1c1c" stroke-width="1.4" stroke-linejoin="round" stroke-linecap="round" />
<ellipse cx="340.1" cy="353.7" rx="2" ry="2.8" transform="rotate(25 340.1 353.7)" fill="none" stroke="#1c1c1c" stroke-width="1.4"/>
<path d="M323.8 355.1 C324.4 354.1 326.3 353.4 327.3 353.7 C328.2 353.9 329.1 355.2 329.3 356.4 C329.6 357.7 329.3 360.3 328.6 361.3 C328 362.2 326 362.3 325.2 362 C324.4 361.6 324 360.3 323.8 359.2 C323.6 358 323.2 356 323.8 355.1 Z" fill="none" stroke="#1c1c1c" stroke-width="1.3" stroke-linejoin="round" stroke-linecap="round" />
<ellipse cx="376.3" cy="349.5" rx="3.2" ry="3" transform="rotate(0 376.3 349.5)" fill="none" stroke="#1c1c1c" stroke-width="1.4"/>
<ellipse cx="376.3" cy="349.5" rx="1.3" ry="1.2" transform="rotate(0 376.3 349.5)" fill="#333" stroke="#1c1c1c" stroke-width="1.1"/>
<path d="M369.4 342.6 L370.8 356.4 L368 360.6" fill="none" stroke="#1c1c1c" stroke-width="1.2" stroke-linejoin="round" stroke-linecap="round" />
<path d="M310 334.3 C311.4 334.6 315.5 335 318.3 335.7 C321 336.4 323.4 338.3 326.6 338.5 C329.8 338.7 334.4 337.6 337.6 337.1 C340.8 336.6 343.8 336.4 345.9 335.7 C348 335 349.4 333.4 350.1 333" fill="none" stroke="#1c1c1c" stroke-width="1.2" stroke-linejoin="round" stroke-linecap="round" />
<path d="M310 339.9 C311.4 340.1 315.5 340.8 318.3 341.2 C321 341.7 323.4 342.6 326.6 342.6 C329.8 342.6 334.2 341.7 337.6 341.2 C341.1 340.8 345.7 340.1 347.3 339.9" fill="none" stroke="#1c1c1c" stroke-width="1.2" stroke-linejoin="round" stroke-linecap="round" />
<ellipse cx="343.1" cy="328.8" rx="4" ry="2.8" transform="rotate(-20 343.1 328.8)" fill="none" stroke="#1c1c1c" stroke-width="1.4"/>
<path d="M330.7 333 L339 331.6 L350.1 336.4" fill="none" stroke="#1c1c1c" stroke-width="1.2" stroke-linejoin="round" stroke-linecap="round" />
<path d="M376.3 364 L387.3 361.3 L388 364.7 L377.7 367.5 Z" fill="#666" stroke="#1c1c1c" stroke-width="1.2" stroke-linejoin="round" stroke-linecap="round" />
<path d="M355.6 379.9 L365.2 377.2 L369.4 381.3 L368 389.6 L362.5 393.7 L357 392.3 Z" fill="#fff" stroke="#1c1c1c" stroke-width="1.4" stroke-linejoin="round" stroke-linecap="round" />
<circle cx="362.5" cy="385.4" r="2.4" fill="#fff" stroke="#1c1c1c" stroke-width="1.4"/>
<circle cx="362.5" cy="385.4" r="1" fill="#333" stroke="#1c1c1c" stroke-width="1"/>
<path d="M358.3 390.3 L365.2 395.1 L368 399.9" fill="none" stroke="#1c1c1c" stroke-width="1.7" stroke-linejoin="round" stroke-linecap="round" />
<path d="M572.1 180 L603.9 197.1 L618.7 206.4" fill="none" stroke="#1c1c1c" stroke-width="1.3" stroke-linejoin="round" stroke-linecap="round" />
<path d="M570.9 182.5 L602.8 199.6 L617.6 208.7" fill="none" stroke="#1c1c1c" stroke-width="1.2" stroke-linejoin="round" stroke-linecap="round" />
<path d="M603.9 197.1 L635 180" fill="none" stroke="#1c1c1c" stroke-width="1.3" stroke-linejoin="round" stroke-linecap="round" />
<path d="M602.8 199.6 L603.9 206.2" fill="none" stroke="#1c1c1c" stroke-width="1.1" stroke-linejoin="round" stroke-linecap="round" />
<path d="M565.8 193.1 C566.9 192.1 570.5 187.9 572.1 187.1 C573.7 186.2 574.5 187.1 575.5 188 C576.4 188.9 577.4 191.8 577.8 192.5" fill="none" stroke="#1c1c1c" stroke-width="1.3" stroke-linejoin="round" stroke-linecap="round" />
<circle cx="575.5" cy="198.2" r="2.6" fill="#fff" stroke="#1c1c1c" stroke-width="1.4"/>
<circle cx="575.5" cy="198.2" r="1.2" fill="#333" stroke="#1c1c1c" stroke-width="1"/>
<circle cx="593.7" cy="207.9" r="2" fill="#fff" stroke="#1c1c1c" stroke-width="1.4"/>
<circle cx="593.7" cy="207.9" r="0.9" fill="#333" stroke="#1c1c1c" stroke-width="1"/>
<circle cx="607.3" cy="216.4" r="2.2" fill="#fff" stroke="#1c1c1c" stroke-width="1.4"/>
<circle cx="607.3" cy="216.4" r="1" fill="#333" stroke="#1c1c1c" stroke-width="1"/>
<path d="M574.3 210.7 C574.9 209.5 576.2 209 577.8 209 C579.3 209 582.3 209.3 583.4 210.5 C584.6 211.7 584.9 214.9 584.8 216.4 C584.7 218 584.1 219.3 582.9 219.8 C581.6 220.3 578.6 219.8 577.2 219.2 C575.8 218.7 575 217.8 574.6 216.4 C574.1 215 573.8 211.9 574.3 210.7 Z" fill="#fff" stroke="#1c1c1c" stroke-width="1.4" stroke-linejoin="round" stroke-linecap="round" />
<path d="M587.4 214.1 L593.7 213 L602.8 217.5 L603.9 230.1 L596 231.2 L588 226.6 Z" fill="#fff" stroke="#1c1c1c" stroke-width="1.3" stroke-linejoin="round" stroke-linecap="round" />
<path d="M589.1 222.1 L596 221 L602.8 223.2" fill="none" stroke="#1c1c1c" stroke-width="1.2" stroke-linejoin="round" stroke-linecap="round" />
<path d="M589.1 226.6 L596 225.5 L603.4 227.8" fill="none" stroke="#1c1c1c" stroke-width="1.2" stroke-linejoin="round" stroke-linecap="round" />
<path d="M593.7 213 L596 221 L596 231.2" fill="none" stroke="#1c1c1c" stroke-width="1.1" stroke-linejoin="round" stroke-linecap="round" />
<path d="M584.6 201.6 C585.1 200.9 587.8 200.3 589.1 200.5 C590.5 200.7 592.4 201.9 592.5 202.8 C592.7 203.6 591.4 205.2 590.3 205.6 C589.1 206 586.7 205.7 585.7 205 C584.8 204.4 584 202.4 584.6 201.6 Z" fill="none" stroke="#1c1c1c" stroke-width="1.2" stroke-linejoin="round" stroke-linecap="round" />
<path d="M566.4 202.8 L589.1 213" fill="none" stroke="#1c1c1c" stroke-width="1.2" stroke-linejoin="round" stroke-linecap="round" />
<path d="M559.6 217.5 L573.2 223.2 L582.3 232.3 L609.6 239.2" fill="none" stroke="#1c1c1c" stroke-width="1.2" stroke-linejoin="round" stroke-linecap="round" />
<path d="M616.4 223.2 L609.6 239.2 L608.5 250" fill="none" stroke="#1c1c1c" stroke-width="1.3" stroke-linejoin="round" stroke-linecap="round" />
<path d="M619.3 219.8 L612.5 239.2 L611.9 250" fill="none" stroke="#1c1c1c" stroke-width="1.2" stroke-linejoin="round" stroke-linecap="round" />
<path d="M623.3 197.1 L628.9 190.2 L635 188" fill="none" stroke="#1c1c1c" stroke-width="1.2" stroke-linejoin="round" stroke-linecap="round" />
<path d="M621 208.4 L625.5 202.8 L635 195.9" fill="none" stroke="#1c1c1c" stroke-width="1.2" stroke-linejoin="round" stroke-linecap="round" />
<path d="M623.3 214.1 L627.8 227.8 L632.4 234.6" fill="none" stroke="#1c1c1c" stroke-width="1.1" stroke-linejoin="round" stroke-linecap="round" />
<path d="M575.5 223.2 C575.9 223.6 577 224.4 577.8 225.5 C578.5 226.6 579.8 228.7 580 230.1 C580.2 231.4 579.1 232.9 578.9 233.5" fill="none" stroke="#1c1c1c" stroke-width="1.4" stroke-linejoin="round" stroke-linecap="round" />
<circle cx="567.5" cy="243.7" r="2" fill="none" stroke="#1c1c1c" stroke-width="1.3"/>
<path d="M555 230.1 L566.4 233.5 L580 241.4 L589.1 243.7" fill="none" stroke="#1c1c1c" stroke-width="1.2" stroke-linejoin="round" stroke-linecap="round" />
<path d="M567.5 195.9 L582.3 202.8" fill="none" stroke="#333" stroke-width="1.9" stroke-linejoin="round" stroke-linecap="round" />
<path d="M142.4 232.2 L143.6 233.8" fill="none" stroke="#777" stroke-width="1.1" stroke-linejoin="round" stroke-linecap="round" />
<path d="M206.5 521.5 L207.5 524.5 L209 523.5" fill="none" stroke="#777" stroke-width="1" stroke-linejoin="round" stroke-linecap="round" />
<line x1="210" y1="525" x2="216" y2="525.3" stroke="#bbb" stroke-width="0.6" stroke-linecap="round"/>
<path d="M560.4 194.6 C559.2 194.8 554.9 194.8 553.5 195.5 C552.2 196.2 552 197.8 552.4 198.7 C552.8 199.6 554.1 200.7 555.8 201 C557.5 201.3 561.5 200.6 562.6 200.5" fill="none" stroke="#1c1c1c" stroke-width="1.4" stroke-linejoin="round" stroke-linecap="round" />
<path d="M555.8 204.9 C554.7 205 550.3 205.1 549 205.8 C547.6 206.4 547.5 208 547.8 209 C548.2 209.9 549.5 210.9 551.3 211.2 C553 211.5 556.9 210.9 558.1 210.8" fill="none" stroke="#1c1c1c" stroke-width="1.4" stroke-linejoin="round" stroke-linecap="round" />
<path d="M552.4 214 C551.3 214.1 546.9 214.2 545.6 214.9 C544.2 215.6 544 217.2 544.4 218.1 C544.8 219 546.1 220 547.8 220.3 C549.5 220.6 553.5 220 554.7 219.9" fill="none" stroke="#1c1c1c" stroke-width="1.4" stroke-linejoin="round" stroke-linecap="round" />
<path d="M550.1 223.1 C549 223.2 544.6 223.3 543.3 224 C542 224.7 541.8 226.3 542.1 227.2 C542.5 228.1 543.8 229.1 545.6 229.5 C547.3 229.8 551.3 229.1 552.4 229" fill="none" stroke="#1c1c1c" stroke-width="1.4" stroke-linejoin="round" stroke-linecap="round" />
<path d="M568.3 272.5 C569.9 272.1 574.4 270 577.4 270.2 C580.5 270.4 585 273.1 586.6 273.6" fill="none" stroke="#2a2a2a" stroke-width="1.9" stroke-linejoin="round" stroke-linecap="round" />
<path d="M572.9 279.3 C573.3 281.6 574.8 290.7 575.2 293" fill="none" stroke="#2a2a2a" stroke-width="2.4" stroke-linejoin="round" stroke-linecap="round" />
<path d="M582 277.1 C582.4 279.3 582.8 287.3 584.3 290.7 C585.8 294.1 590 296.4 591.1 297.6" fill="none" stroke="#2a2a2a" stroke-width="1.9" stroke-linejoin="round" stroke-linecap="round" />
<path d="M588.8 272.5 C590 273.3 594.5 276.3 595.7 277.1" fill="none" stroke="#2a2a2a" stroke-width="1.7" stroke-linejoin="round" stroke-linecap="round" />
<path d="M563.8 283.9 C564.5 286.2 567.6 295.3 568.3 297.6" fill="none" stroke="#2a2a2a" stroke-width="1.7" stroke-linejoin="round" stroke-linecap="round" />
<path d="M577.4 297.6 C579 298.7 585 303.3 586.6 304.4" fill="none" stroke="#2a2a2a" stroke-width="1.9" stroke-linejoin="round" stroke-linecap="round" />
<path d="M568.3 238.3 C569.3 236.6 572.9 236.1 575.2 236.1 C577.4 236.1 580.7 236.8 582 238.3 C583.3 239.9 583.9 243.5 583.1 245.2 C582.4 246.9 579.7 248.4 577.4 248.6 C575.2 248.8 571 248 569.5 246.3 C568 244.6 567.4 240 568.3 238.3 Z" fill="none" stroke="#1c1c1c" stroke-width="1.3" stroke-linejoin="round" stroke-linecap="round" />
<path d="M584.3 242.9 C585 241.5 589.2 241.4 591.1 241.8 C593 242.1 595.3 243.8 595.7 245.2 C596.1 246.5 594.9 248.9 593.4 249.7 C591.9 250.6 588.1 251.3 586.6 250.2 C585 249 583.5 244.3 584.3 242.9 Z" fill="none" stroke="#1c1c1c" stroke-width="1.3" stroke-linejoin="round" stroke-linecap="round" />
<path d="M627.5 268.7 C628 267.9 628.9 264.9 630 263.8 C631.1 262.7 633.4 262.5 634.1 262.2" fill="none" stroke="#222" stroke-width="2.6" stroke-linejoin="round" stroke-linecap="round" />
<path d="M663.3 263.8 C663.9 264.6 666.2 267.1 666.6 268.7 C667 270.3 665.9 272.8 665.8 273.6" fill="none" stroke="#222" stroke-width="2.4" stroke-linejoin="round" stroke-linecap="round" />
<path d="M640.6 286.6 C641.4 287 643.8 288.8 645.4 289 C647.1 289.3 649.5 288.4 650.3 288.2" fill="none" stroke="#222" stroke-width="2.6" stroke-linejoin="round" stroke-linecap="round" />
<path d="M650.3 245.9 C651.1 246.2 654.4 247.3 655.2 247.5" fill="none" stroke="#222" stroke-width="2.9" stroke-linejoin="round" stroke-linecap="round" />
<path d="M632.4 252.4 C633 252 635.1 250.4 635.7 250" fill="none" stroke="#222" stroke-width="2.4" stroke-linejoin="round" stroke-linecap="round" />
<path d="M661.7 286.6 C662.3 286.1 664.4 283.9 665 283.3" fill="none" stroke="#222" stroke-width="2.6" stroke-linejoin="round" stroke-linecap="round" />
<path d="M625.9 289.9 C626.5 290.4 628.6 292.6 629.2 293.1" fill="none" stroke="#222" stroke-width="2.4" stroke-linejoin="round" stroke-linecap="round" />
<path d="M638.9 247.5 C639.5 247.4 641.7 246.9 642.2 246.7" fill="none" stroke="#222" stroke-width="2.2" stroke-linejoin="round" stroke-linecap="round" />
<path d="M669.9 257.3 C670.1 257.9 671.2 260 671.5 260.6" fill="none" stroke="#222" stroke-width="2.2" stroke-linejoin="round" stroke-linecap="round" />
<path d="M635.7 296.4 C636.5 296.5 639.8 297 640.6 297.2" fill="none" stroke="#222" stroke-width="2.2" stroke-linejoin="round" stroke-linecap="round" />
</g>
</svg></body></html>
